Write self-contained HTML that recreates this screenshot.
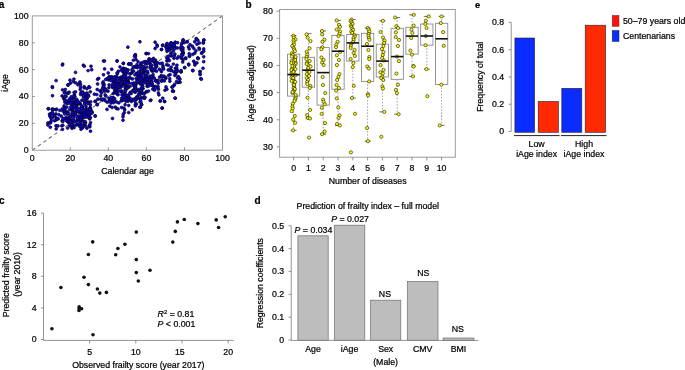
<!DOCTYPE html>
<html><head><meta charset="utf-8"><style>
html,body{margin:0;padding:0;background:#fff;}
body{width:685px;height:370px;overflow:hidden;}
svg{display:block;font-family:"Liberation Sans", sans-serif;will-change:transform;}
text{stroke:#000;stroke-width:0.22px;}
</style></head><body>
<svg width="685" height="370" viewBox="0 0 685 370">
<rect width="685" height="370" fill="#fff"/>
<text x="-1.3" y="7.7" text-anchor="start" font-size="10" font-weight="bold" fill="#000">a</text>
<line x1="32.3" y1="150.2" x2="222.5" y2="15.9" stroke="#6a6a6a" stroke-width="1.05" stroke-dasharray="3.6,3.14"/>
<circle cx="62.70" cy="64.10" r="1.45" fill="#1400f0" stroke="#000" stroke-width="0.6"/>
<circle cx="83.40" cy="65.20" r="1.45" fill="#1400f0" stroke="#000" stroke-width="0.6"/>
<circle cx="84.30" cy="66.30" r="1.45" fill="#1400f0" stroke="#000" stroke-width="0.6"/>
<circle cx="91.00" cy="66.30" r="1.45" fill="#1400f0" stroke="#000" stroke-width="0.6"/>
<circle cx="91.70" cy="69.70" r="1.45" fill="#1400f0" stroke="#000" stroke-width="0.6"/>
<circle cx="88.10" cy="70.60" r="1.45" fill="#1400f0" stroke="#000" stroke-width="0.6"/>
<circle cx="75.50" cy="72.40" r="1.45" fill="#1400f0" stroke="#000" stroke-width="0.6"/>
<circle cx="56.10" cy="80.60" r="1.45" fill="#1400f0" stroke="#000" stroke-width="0.6"/>
<circle cx="70.00" cy="80.20" r="1.45" fill="#1400f0" stroke="#000" stroke-width="0.6"/>
<circle cx="73.90" cy="79.10" r="1.45" fill="#1400f0" stroke="#000" stroke-width="0.6"/>
<circle cx="73.30" cy="81.60" r="1.45" fill="#1400f0" stroke="#000" stroke-width="0.6"/>
<circle cx="75.40" cy="82.80" r="1.45" fill="#1400f0" stroke="#000" stroke-width="0.6"/>
<circle cx="78.70" cy="83.60" r="1.45" fill="#1400f0" stroke="#000" stroke-width="0.6"/>
<circle cx="79.90" cy="82.00" r="1.45" fill="#1400f0" stroke="#000" stroke-width="0.6"/>
<circle cx="80.60" cy="84.40" r="1.45" fill="#1400f0" stroke="#000" stroke-width="0.6"/>
<circle cx="68.00" cy="84.80" r="1.45" fill="#1400f0" stroke="#000" stroke-width="0.6"/>
<circle cx="70.40" cy="83.20" r="1.45" fill="#1400f0" stroke="#000" stroke-width="0.6"/>
<circle cx="52.30" cy="86.80" r="1.45" fill="#1400f0" stroke="#000" stroke-width="0.6"/>
<circle cx="84.20" cy="86.80" r="1.45" fill="#1400f0" stroke="#000" stroke-width="0.6"/>
<circle cx="88.90" cy="86.80" r="1.45" fill="#1400f0" stroke="#000" stroke-width="0.6"/>
<circle cx="97.60" cy="79.30" r="1.45" fill="#1400f0" stroke="#000" stroke-width="0.6"/>
<circle cx="97.60" cy="84.00" r="1.45" fill="#1400f0" stroke="#000" stroke-width="0.6"/>
<circle cx="52.50" cy="87.50" r="1.45" fill="#1400f0" stroke="#000" stroke-width="0.6"/>
<circle cx="52.50" cy="95.70" r="1.45" fill="#1400f0" stroke="#000" stroke-width="0.6"/>
<circle cx="62.50" cy="89.90" r="1.45" fill="#1400f0" stroke="#000" stroke-width="0.6"/>
<circle cx="65.30" cy="89.50" r="1.45" fill="#1400f0" stroke="#000" stroke-width="0.6"/>
<circle cx="65.30" cy="92.50" r="1.45" fill="#1400f0" stroke="#000" stroke-width="0.6"/>
<circle cx="62.10" cy="96.00" r="1.45" fill="#1400f0" stroke="#000" stroke-width="0.6"/>
<circle cx="63.70" cy="98.60" r="1.45" fill="#1400f0" stroke="#000" stroke-width="0.6"/>
<circle cx="64.90" cy="102.30" r="1.45" fill="#1400f0" stroke="#000" stroke-width="0.6"/>
<circle cx="48.30" cy="108.80" r="1.45" fill="#1400f0" stroke="#000" stroke-width="0.6"/>
<circle cx="52.30" cy="109.40" r="1.45" fill="#1400f0" stroke="#000" stroke-width="0.6"/>
<circle cx="59.80" cy="110.40" r="1.45" fill="#1400f0" stroke="#000" stroke-width="0.6"/>
<circle cx="68.00" cy="85.20" r="1.45" fill="#1400f0" stroke="#000" stroke-width="0.6"/>
<circle cx="77.90" cy="84.80" r="1.45" fill="#1400f0" stroke="#000" stroke-width="0.6"/>
<circle cx="80.60" cy="87.20" r="1.45" fill="#1400f0" stroke="#000" stroke-width="0.6"/>
<circle cx="80.20" cy="89.50" r="1.45" fill="#1400f0" stroke="#000" stroke-width="0.6"/>
<circle cx="82.60" cy="91.90" r="1.45" fill="#1400f0" stroke="#000" stroke-width="0.6"/>
<circle cx="84.20" cy="87.90" r="1.45" fill="#1400f0" stroke="#000" stroke-width="0.6"/>
<circle cx="87.00" cy="88.70" r="1.45" fill="#1400f0" stroke="#000" stroke-width="0.6"/>
<circle cx="89.70" cy="87.50" r="1.45" fill="#1400f0" stroke="#000" stroke-width="0.6"/>
<circle cx="87.00" cy="93.10" r="1.45" fill="#1400f0" stroke="#000" stroke-width="0.6"/>
<circle cx="94.40" cy="94.20" r="1.45" fill="#1400f0" stroke="#000" stroke-width="0.6"/>
<circle cx="96.80" cy="94.60" r="1.45" fill="#1400f0" stroke="#000" stroke-width="0.6"/>
<circle cx="95.20" cy="101.30" r="1.45" fill="#1400f0" stroke="#000" stroke-width="0.6"/>
<circle cx="97.20" cy="104.50" r="1.45" fill="#1400f0" stroke="#000" stroke-width="0.6"/>
<circle cx="92.10" cy="112.00" r="1.45" fill="#1400f0" stroke="#000" stroke-width="0.6"/>
<circle cx="97.20" cy="89.50" r="1.45" fill="#1400f0" stroke="#000" stroke-width="0.6"/>
<circle cx="75.50" cy="91.90" r="1.45" fill="#1400f0" stroke="#000" stroke-width="0.6"/>
<circle cx="74.30" cy="94.60" r="1.45" fill="#1400f0" stroke="#000" stroke-width="0.6"/>
<circle cx="47.90" cy="123.00" r="1.45" fill="#1400f0" stroke="#000" stroke-width="0.6"/>
<circle cx="47.90" cy="125.00" r="1.45" fill="#1400f0" stroke="#000" stroke-width="0.6"/>
<circle cx="50.30" cy="127.30" r="1.45" fill="#1400f0" stroke="#000" stroke-width="0.6"/>
<circle cx="49.50" cy="114.30" r="1.45" fill="#1400f0" stroke="#000" stroke-width="0.6"/>
<circle cx="49.90" cy="116.30" r="1.45" fill="#1400f0" stroke="#000" stroke-width="0.6"/>
<circle cx="48.30" cy="108.80" r="1.45" fill="#1400f0" stroke="#000" stroke-width="0.6"/>
<circle cx="52.30" cy="109.20" r="1.45" fill="#1400f0" stroke="#000" stroke-width="0.6"/>
<circle cx="56.20" cy="128.90" r="1.45" fill="#1400f0" stroke="#000" stroke-width="0.6"/>
<circle cx="62.50" cy="129.40" r="1.45" fill="#1400f0" stroke="#000" stroke-width="0.6"/>
<circle cx="67.60" cy="128.10" r="1.45" fill="#1400f0" stroke="#000" stroke-width="0.6"/>
<circle cx="72.00" cy="128.30" r="1.45" fill="#1400f0" stroke="#000" stroke-width="0.6"/>
<circle cx="81.00" cy="129.30" r="1.45" fill="#1400f0" stroke="#000" stroke-width="0.6"/>
<circle cx="86.90" cy="128.30" r="1.45" fill="#1400f0" stroke="#000" stroke-width="0.6"/>
<circle cx="90.50" cy="131.20" r="1.45" fill="#1400f0" stroke="#000" stroke-width="0.6"/>
<circle cx="92.10" cy="113.10" r="1.45" fill="#1400f0" stroke="#000" stroke-width="0.6"/>
<circle cx="95.10" cy="115.90" r="1.45" fill="#1400f0" stroke="#000" stroke-width="0.6"/>
<circle cx="90.50" cy="122.60" r="1.45" fill="#1400f0" stroke="#000" stroke-width="0.6"/>
<circle cx="89.70" cy="119.00" r="1.45" fill="#1400f0" stroke="#000" stroke-width="0.6"/>
<circle cx="103.50" cy="61.00" r="1.45" fill="#1400f0" stroke="#000" stroke-width="0.6"/>
<circle cx="117.00" cy="61.00" r="1.45" fill="#1400f0" stroke="#000" stroke-width="0.6"/>
<circle cx="123.30" cy="63.40" r="1.45" fill="#1400f0" stroke="#000" stroke-width="0.6"/>
<circle cx="120.00" cy="66.90" r="1.45" fill="#1400f0" stroke="#000" stroke-width="0.6"/>
<circle cx="123.30" cy="68.30" r="1.45" fill="#1400f0" stroke="#000" stroke-width="0.6"/>
<circle cx="104.60" cy="68.90" r="1.45" fill="#1400f0" stroke="#000" stroke-width="0.6"/>
<circle cx="111.70" cy="69.30" r="1.45" fill="#1400f0" stroke="#000" stroke-width="0.6"/>
<circle cx="108.20" cy="73.00" r="1.45" fill="#1400f0" stroke="#000" stroke-width="0.6"/>
<circle cx="103.50" cy="74.80" r="1.45" fill="#1400f0" stroke="#000" stroke-width="0.6"/>
<circle cx="118.40" cy="71.30" r="1.45" fill="#1400f0" stroke="#000" stroke-width="0.6"/>
<circle cx="128.70" cy="64.20" r="1.45" fill="#1400f0" stroke="#000" stroke-width="0.6"/>
<circle cx="130.60" cy="64.20" r="1.45" fill="#1400f0" stroke="#000" stroke-width="0.6"/>
<circle cx="135.00" cy="55.10" r="1.45" fill="#1400f0" stroke="#000" stroke-width="0.6"/>
<circle cx="135.40" cy="56.40" r="1.45" fill="#1400f0" stroke="#000" stroke-width="0.6"/>
<circle cx="133.40" cy="60.20" r="1.45" fill="#1400f0" stroke="#000" stroke-width="0.6"/>
<circle cx="136.00" cy="59.50" r="1.45" fill="#1400f0" stroke="#000" stroke-width="0.6"/>
<circle cx="138.10" cy="61.80" r="1.45" fill="#1400f0" stroke="#000" stroke-width="0.6"/>
<circle cx="140.90" cy="64.60" r="1.45" fill="#1400f0" stroke="#000" stroke-width="0.6"/>
<circle cx="146.40" cy="53.50" r="1.45" fill="#1400f0" stroke="#000" stroke-width="0.6"/>
<circle cx="145.60" cy="61.80" r="1.45" fill="#1400f0" stroke="#000" stroke-width="0.6"/>
<circle cx="98.70" cy="78.40" r="1.45" fill="#1400f0" stroke="#000" stroke-width="0.6"/>
<circle cx="127.90" cy="47.20" r="1.45" fill="#1400f0" stroke="#000" stroke-width="0.6"/>
<circle cx="139.90" cy="41.80" r="1.45" fill="#1400f0" stroke="#000" stroke-width="0.6"/>
<circle cx="155.10" cy="42.20" r="1.45" fill="#1400f0" stroke="#000" stroke-width="0.6"/>
<circle cx="157.00" cy="45.00" r="1.45" fill="#1400f0" stroke="#000" stroke-width="0.6"/>
<circle cx="157.20" cy="46.30" r="1.45" fill="#1400f0" stroke="#000" stroke-width="0.6"/>
<circle cx="155.10" cy="48.50" r="1.45" fill="#1400f0" stroke="#000" stroke-width="0.6"/>
<circle cx="162.60" cy="45.40" r="1.45" fill="#1400f0" stroke="#000" stroke-width="0.6"/>
<circle cx="161.40" cy="49.50" r="1.45" fill="#1400f0" stroke="#000" stroke-width="0.6"/>
<circle cx="146.00" cy="53.60" r="1.45" fill="#1400f0" stroke="#000" stroke-width="0.6"/>
<circle cx="148.40" cy="53.60" r="1.45" fill="#1400f0" stroke="#000" stroke-width="0.6"/>
<circle cx="135.40" cy="54.80" r="1.45" fill="#1400f0" stroke="#000" stroke-width="0.6"/>
<circle cx="134.60" cy="56.40" r="1.45" fill="#1400f0" stroke="#000" stroke-width="0.6"/>
<circle cx="149.20" cy="58.80" r="1.45" fill="#1400f0" stroke="#000" stroke-width="0.6"/>
<circle cx="171.20" cy="43.00" r="1.45" fill="#1400f0" stroke="#000" stroke-width="0.6"/>
<circle cx="62.40" cy="65.00" r="1.45" fill="#1400f0" stroke="#000" stroke-width="0.6"/>
<circle cx="104.50" cy="61.00" r="1.45" fill="#1400f0" stroke="#000" stroke-width="0.6"/>
<circle cx="117.20" cy="61.00" r="1.45" fill="#1400f0" stroke="#000" stroke-width="0.6"/>
<circle cx="123.40" cy="63.30" r="1.45" fill="#1400f0" stroke="#000" stroke-width="0.6"/>
<circle cx="129.00" cy="63.80" r="1.45" fill="#1400f0" stroke="#000" stroke-width="0.6"/>
<circle cx="131.00" cy="63.80" r="1.45" fill="#1400f0" stroke="#000" stroke-width="0.6"/>
<circle cx="140.90" cy="64.00" r="1.45" fill="#1400f0" stroke="#000" stroke-width="0.6"/>
<circle cx="145.60" cy="61.70" r="1.45" fill="#1400f0" stroke="#000" stroke-width="0.6"/>
<circle cx="148.90" cy="59.80" r="1.45" fill="#1400f0" stroke="#000" stroke-width="0.6"/>
<circle cx="155.50" cy="60.20" r="1.45" fill="#1400f0" stroke="#000" stroke-width="0.6"/>
<circle cx="148.40" cy="62.60" r="1.45" fill="#1400f0" stroke="#000" stroke-width="0.6"/>
<circle cx="95.20" cy="101.50" r="1.45" fill="#1400f0" stroke="#000" stroke-width="0.6"/>
<circle cx="97.20" cy="104.70" r="1.45" fill="#1400f0" stroke="#000" stroke-width="0.6"/>
<circle cx="95.20" cy="116.10" r="1.45" fill="#1400f0" stroke="#000" stroke-width="0.6"/>
<circle cx="97.90" cy="99.20" r="1.45" fill="#1400f0" stroke="#000" stroke-width="0.6"/>
<circle cx="100.70" cy="99.20" r="1.45" fill="#1400f0" stroke="#000" stroke-width="0.6"/>
<circle cx="103.90" cy="99.20" r="1.45" fill="#1400f0" stroke="#000" stroke-width="0.6"/>
<circle cx="107.00" cy="109.40" r="1.45" fill="#1400f0" stroke="#000" stroke-width="0.6"/>
<circle cx="107.40" cy="102.30" r="1.45" fill="#1400f0" stroke="#000" stroke-width="0.6"/>
<circle cx="109.80" cy="106.30" r="1.45" fill="#1400f0" stroke="#000" stroke-width="0.6"/>
<circle cx="112.10" cy="107.50" r="1.45" fill="#1400f0" stroke="#000" stroke-width="0.6"/>
<circle cx="115.30" cy="107.10" r="1.45" fill="#1400f0" stroke="#000" stroke-width="0.6"/>
<circle cx="116.50" cy="108.60" r="1.45" fill="#1400f0" stroke="#000" stroke-width="0.6"/>
<circle cx="118.00" cy="108.90" r="1.45" fill="#1400f0" stroke="#000" stroke-width="0.6"/>
<circle cx="112.50" cy="118.50" r="1.45" fill="#1400f0" stroke="#000" stroke-width="0.6"/>
<circle cx="118.80" cy="102.90" r="1.45" fill="#1400f0" stroke="#000" stroke-width="0.6"/>
<circle cx="121.60" cy="100.40" r="1.45" fill="#1400f0" stroke="#000" stroke-width="0.6"/>
<circle cx="121.60" cy="107.50" r="1.45" fill="#1400f0" stroke="#000" stroke-width="0.6"/>
<circle cx="124.00" cy="108.20" r="1.45" fill="#1400f0" stroke="#000" stroke-width="0.6"/>
<circle cx="124.70" cy="109.80" r="1.45" fill="#1400f0" stroke="#000" stroke-width="0.6"/>
<circle cx="124.30" cy="112.60" r="1.45" fill="#1400f0" stroke="#000" stroke-width="0.6"/>
<circle cx="123.20" cy="114.50" r="1.45" fill="#1400f0" stroke="#000" stroke-width="0.6"/>
<circle cx="123.00" cy="116.80" r="1.45" fill="#1400f0" stroke="#000" stroke-width="0.6"/>
<circle cx="123.00" cy="120.20" r="1.45" fill="#1400f0" stroke="#000" stroke-width="0.6"/>
<circle cx="125.10" cy="104.70" r="1.45" fill="#1400f0" stroke="#000" stroke-width="0.6"/>
<circle cx="128.70" cy="105.50" r="1.45" fill="#1400f0" stroke="#000" stroke-width="0.6"/>
<circle cx="125.90" cy="101.20" r="1.45" fill="#1400f0" stroke="#000" stroke-width="0.6"/>
<circle cx="127.90" cy="101.20" r="1.45" fill="#1400f0" stroke="#000" stroke-width="0.6"/>
<circle cx="131.40" cy="101.50" r="1.45" fill="#1400f0" stroke="#000" stroke-width="0.6"/>
<circle cx="135.00" cy="98.80" r="1.45" fill="#1400f0" stroke="#000" stroke-width="0.6"/>
<circle cx="135.00" cy="101.20" r="1.45" fill="#1400f0" stroke="#000" stroke-width="0.6"/>
<circle cx="135.40" cy="104.30" r="1.45" fill="#1400f0" stroke="#000" stroke-width="0.6"/>
<circle cx="135.40" cy="105.90" r="1.45" fill="#1400f0" stroke="#000" stroke-width="0.6"/>
<circle cx="136.50" cy="104.00" r="1.45" fill="#1400f0" stroke="#000" stroke-width="0.6"/>
<circle cx="140.10" cy="101.90" r="1.45" fill="#1400f0" stroke="#000" stroke-width="0.6"/>
<circle cx="141.70" cy="104.70" r="1.45" fill="#1400f0" stroke="#000" stroke-width="0.6"/>
<circle cx="139.70" cy="107.10" r="1.45" fill="#1400f0" stroke="#000" stroke-width="0.6"/>
<circle cx="132.20" cy="109.80" r="1.45" fill="#1400f0" stroke="#000" stroke-width="0.6"/>
<circle cx="128.70" cy="112.60" r="1.45" fill="#1400f0" stroke="#000" stroke-width="0.6"/>
<circle cx="144.40" cy="98.40" r="1.45" fill="#1400f0" stroke="#000" stroke-width="0.6"/>
<circle cx="109.50" cy="100.50" r="1.45" fill="#1400f0" stroke="#000" stroke-width="0.6"/>
<circle cx="112.00" cy="101.50" r="1.45" fill="#1400f0" stroke="#000" stroke-width="0.6"/>
<circle cx="114.50" cy="100.30" r="1.45" fill="#1400f0" stroke="#000" stroke-width="0.6"/>
<circle cx="116.50" cy="102.00" r="1.45" fill="#1400f0" stroke="#000" stroke-width="0.6"/>
<circle cx="111.00" cy="103.00" r="1.45" fill="#1400f0" stroke="#000" stroke-width="0.6"/>
<circle cx="113.50" cy="102.80" r="1.45" fill="#1400f0" stroke="#000" stroke-width="0.6"/>
<circle cx="142.90" cy="88.60" r="1.45" fill="#1400f0" stroke="#000" stroke-width="0.6"/>
<circle cx="141.50" cy="92.00" r="1.45" fill="#1400f0" stroke="#000" stroke-width="0.6"/>
<circle cx="144.50" cy="93.00" r="1.45" fill="#1400f0" stroke="#000" stroke-width="0.6"/>
<circle cx="144.80" cy="97.30" r="1.45" fill="#1400f0" stroke="#000" stroke-width="0.6"/>
<circle cx="146.80" cy="91.80" r="1.45" fill="#1400f0" stroke="#000" stroke-width="0.6"/>
<circle cx="142.80" cy="88.80" r="1.45" fill="#1400f0" stroke="#000" stroke-width="0.6"/>
<circle cx="140.90" cy="93.50" r="1.45" fill="#1400f0" stroke="#000" stroke-width="0.6"/>
<circle cx="143.80" cy="94.00" r="1.45" fill="#1400f0" stroke="#000" stroke-width="0.6"/>
<circle cx="144.70" cy="97.30" r="1.45" fill="#1400f0" stroke="#000" stroke-width="0.6"/>
<circle cx="140.90" cy="102.00" r="1.45" fill="#1400f0" stroke="#000" stroke-width="0.6"/>
<circle cx="141.40" cy="104.40" r="1.45" fill="#1400f0" stroke="#000" stroke-width="0.6"/>
<circle cx="140.50" cy="107.20" r="1.45" fill="#1400f0" stroke="#000" stroke-width="0.6"/>
<circle cx="146.60" cy="91.60" r="1.45" fill="#1400f0" stroke="#000" stroke-width="0.6"/>
<circle cx="148.50" cy="91.10" r="1.45" fill="#1400f0" stroke="#000" stroke-width="0.6"/>
<circle cx="150.90" cy="100.10" r="1.45" fill="#1400f0" stroke="#000" stroke-width="0.6"/>
<circle cx="152.80" cy="89.30" r="1.45" fill="#1400f0" stroke="#000" stroke-width="0.6"/>
<circle cx="154.60" cy="90.20" r="1.45" fill="#1400f0" stroke="#000" stroke-width="0.6"/>
<circle cx="158.40" cy="89.30" r="1.45" fill="#1400f0" stroke="#000" stroke-width="0.6"/>
<circle cx="158.40" cy="93.00" r="1.45" fill="#1400f0" stroke="#000" stroke-width="0.6"/>
<circle cx="158.90" cy="94.90" r="1.45" fill="#1400f0" stroke="#000" stroke-width="0.6"/>
<circle cx="153.20" cy="86.00" r="1.45" fill="#1400f0" stroke="#000" stroke-width="0.6"/>
<circle cx="155.60" cy="86.40" r="1.45" fill="#1400f0" stroke="#000" stroke-width="0.6"/>
<circle cx="147.10" cy="86.40" r="1.45" fill="#1400f0" stroke="#000" stroke-width="0.6"/>
<circle cx="160.30" cy="101.10" r="1.45" fill="#1400f0" stroke="#000" stroke-width="0.6"/>
<circle cx="162.70" cy="98.20" r="1.45" fill="#1400f0" stroke="#000" stroke-width="0.6"/>
<circle cx="164.60" cy="101.50" r="1.45" fill="#1400f0" stroke="#000" stroke-width="0.6"/>
<circle cx="162.20" cy="108.20" r="1.45" fill="#1400f0" stroke="#000" stroke-width="0.6"/>
<circle cx="165.00" cy="90.20" r="1.45" fill="#1400f0" stroke="#000" stroke-width="0.6"/>
<circle cx="166.90" cy="89.30" r="1.45" fill="#1400f0" stroke="#000" stroke-width="0.6"/>
<circle cx="166.00" cy="86.90" r="1.45" fill="#1400f0" stroke="#000" stroke-width="0.6"/>
<circle cx="172.60" cy="91.10" r="1.45" fill="#1400f0" stroke="#000" stroke-width="0.6"/>
<circle cx="173.50" cy="91.30" r="1.45" fill="#1400f0" stroke="#000" stroke-width="0.6"/>
<circle cx="172.10" cy="86.90" r="1.45" fill="#1400f0" stroke="#000" stroke-width="0.6"/>
<circle cx="174.00" cy="85.50" r="1.45" fill="#1400f0" stroke="#000" stroke-width="0.6"/>
<circle cx="175.20" cy="98.20" r="1.45" fill="#1400f0" stroke="#000" stroke-width="0.6"/>
<circle cx="150.30" cy="100.50" r="1.45" fill="#1400f0" stroke="#000" stroke-width="0.6"/>
<circle cx="160.20" cy="100.90" r="1.45" fill="#1400f0" stroke="#000" stroke-width="0.6"/>
<circle cx="164.50" cy="101.40" r="1.45" fill="#1400f0" stroke="#000" stroke-width="0.6"/>
<circle cx="162.10" cy="108.00" r="1.45" fill="#1400f0" stroke="#000" stroke-width="0.6"/>
<circle cx="181.10" cy="71.90" r="1.45" fill="#1400f0" stroke="#000" stroke-width="0.6"/>
<circle cx="184.60" cy="67.60" r="1.45" fill="#1400f0" stroke="#000" stroke-width="0.6"/>
<circle cx="185.80" cy="58.50" r="1.45" fill="#1400f0" stroke="#000" stroke-width="0.6"/>
<circle cx="188.60" cy="64.10" r="1.45" fill="#1400f0" stroke="#000" stroke-width="0.6"/>
<circle cx="189.40" cy="56.20" r="1.45" fill="#1400f0" stroke="#000" stroke-width="0.6"/>
<circle cx="192.90" cy="70.40" r="1.45" fill="#1400f0" stroke="#000" stroke-width="0.6"/>
<circle cx="193.70" cy="61.30" r="1.45" fill="#1400f0" stroke="#000" stroke-width="0.6"/>
<circle cx="194.90" cy="63.30" r="1.45" fill="#1400f0" stroke="#000" stroke-width="0.6"/>
<circle cx="196.90" cy="62.90" r="1.45" fill="#1400f0" stroke="#000" stroke-width="0.6"/>
<circle cx="198.00" cy="58.50" r="1.45" fill="#1400f0" stroke="#000" stroke-width="0.6"/>
<circle cx="200.00" cy="71.50" r="1.45" fill="#1400f0" stroke="#000" stroke-width="0.6"/>
<circle cx="200.00" cy="74.30" r="1.45" fill="#1400f0" stroke="#000" stroke-width="0.6"/>
<circle cx="200.80" cy="78.60" r="1.45" fill="#1400f0" stroke="#000" stroke-width="0.6"/>
<circle cx="182.70" cy="62.10" r="1.45" fill="#1400f0" stroke="#000" stroke-width="0.6"/>
<circle cx="183.00" cy="59.80" r="1.45" fill="#1400f0" stroke="#000" stroke-width="0.6"/>
<circle cx="179.50" cy="78.60" r="1.45" fill="#1400f0" stroke="#000" stroke-width="0.6"/>
<circle cx="161.40" cy="81.00" r="1.45" fill="#1400f0" stroke="#000" stroke-width="0.6"/>
<circle cx="163.00" cy="66.00" r="1.45" fill="#1400f0" stroke="#000" stroke-width="0.6"/>
<circle cx="203.00" cy="68.30" r="1.45" fill="#1400f0" stroke="#000" stroke-width="0.6"/>
<circle cx="200.10" cy="71.80" r="1.45" fill="#1400f0" stroke="#000" stroke-width="0.6"/>
<circle cx="200.10" cy="74.50" r="1.45" fill="#1400f0" stroke="#000" stroke-width="0.6"/>
<circle cx="201.30" cy="79.20" r="1.45" fill="#1400f0" stroke="#000" stroke-width="0.6"/>
<circle cx="192.80" cy="70.70" r="1.45" fill="#1400f0" stroke="#000" stroke-width="0.6"/>
<circle cx="184.80" cy="67.60" r="1.45" fill="#1400f0" stroke="#000" stroke-width="0.6"/>
<circle cx="188.80" cy="65.00" r="1.45" fill="#1400f0" stroke="#000" stroke-width="0.6"/>
<circle cx="194.90" cy="65.00" r="1.45" fill="#1400f0" stroke="#000" stroke-width="0.6"/>
<circle cx="181.00" cy="71.80" r="1.45" fill="#1400f0" stroke="#000" stroke-width="0.6"/>
<circle cx="177.00" cy="71.80" r="1.45" fill="#1400f0" stroke="#000" stroke-width="0.6"/>
<circle cx="179.80" cy="79.20" r="1.45" fill="#1400f0" stroke="#000" stroke-width="0.6"/>
<circle cx="178.40" cy="76.80" r="1.45" fill="#1400f0" stroke="#000" stroke-width="0.6"/>
<circle cx="175.40" cy="68.30" r="1.45" fill="#1400f0" stroke="#000" stroke-width="0.6"/>
<circle cx="172.70" cy="91.00" r="1.45" fill="#1400f0" stroke="#000" stroke-width="0.6"/>
<circle cx="175.10" cy="98.10" r="1.45" fill="#1400f0" stroke="#000" stroke-width="0.6"/>
<circle cx="172.30" cy="87.20" r="1.45" fill="#1400f0" stroke="#000" stroke-width="0.6"/>
<circle cx="174.60" cy="84.40" r="1.45" fill="#1400f0" stroke="#000" stroke-width="0.6"/>
<circle cx="162.80" cy="45.10" r="1.45" fill="#1400f0" stroke="#000" stroke-width="0.6"/>
<circle cx="161.60" cy="49.50" r="1.45" fill="#1400f0" stroke="#000" stroke-width="0.6"/>
<circle cx="171.00" cy="43.00" r="1.45" fill="#1400f0" stroke="#000" stroke-width="0.6"/>
<circle cx="175.40" cy="42.60" r="1.45" fill="#1400f0" stroke="#000" stroke-width="0.6"/>
<circle cx="183.20" cy="40.20" r="1.45" fill="#1400f0" stroke="#000" stroke-width="0.6"/>
<circle cx="187.20" cy="41.70" r="1.45" fill="#1400f0" stroke="#000" stroke-width="0.6"/>
<circle cx="184.40" cy="42.60" r="1.45" fill="#1400f0" stroke="#000" stroke-width="0.6"/>
<circle cx="196.20" cy="38.70" r="1.45" fill="#1400f0" stroke="#000" stroke-width="0.6"/>
<circle cx="197.80" cy="40.20" r="1.45" fill="#1400f0" stroke="#000" stroke-width="0.6"/>
<circle cx="203.70" cy="40.20" r="1.45" fill="#1400f0" stroke="#000" stroke-width="0.6"/>
<circle cx="203.30" cy="43.00" r="1.45" fill="#1400f0" stroke="#000" stroke-width="0.6"/>
<circle cx="194.70" cy="41.80" r="1.45" fill="#1400f0" stroke="#000" stroke-width="0.6"/>
<circle cx="197.00" cy="44.20" r="1.45" fill="#1400f0" stroke="#000" stroke-width="0.6"/>
<circle cx="199.40" cy="43.00" r="1.45" fill="#1400f0" stroke="#000" stroke-width="0.6"/>
<circle cx="190.00" cy="44.60" r="1.45" fill="#1400f0" stroke="#000" stroke-width="0.6"/>
<circle cx="192.30" cy="46.20" r="1.45" fill="#1400f0" stroke="#000" stroke-width="0.6"/>
<circle cx="188.40" cy="46.90" r="1.45" fill="#1400f0" stroke="#000" stroke-width="0.6"/>
<circle cx="189.20" cy="48.90" r="1.45" fill="#1400f0" stroke="#000" stroke-width="0.6"/>
<circle cx="193.90" cy="48.50" r="1.45" fill="#1400f0" stroke="#000" stroke-width="0.6"/>
<circle cx="195.90" cy="50.90" r="1.45" fill="#1400f0" stroke="#000" stroke-width="0.6"/>
<circle cx="199.00" cy="48.10" r="1.45" fill="#1400f0" stroke="#000" stroke-width="0.6"/>
<circle cx="199.40" cy="49.30" r="1.45" fill="#1400f0" stroke="#000" stroke-width="0.6"/>
<circle cx="203.70" cy="48.90" r="1.45" fill="#1400f0" stroke="#000" stroke-width="0.6"/>
<circle cx="203.70" cy="51.30" r="1.45" fill="#1400f0" stroke="#000" stroke-width="0.6"/>
<circle cx="201.80" cy="52.90" r="1.45" fill="#1400f0" stroke="#000" stroke-width="0.6"/>
<circle cx="194.70" cy="53.20" r="1.45" fill="#1400f0" stroke="#000" stroke-width="0.6"/>
<circle cx="192.70" cy="54.40" r="1.45" fill="#1400f0" stroke="#000" stroke-width="0.6"/>
<circle cx="189.20" cy="53.60" r="1.45" fill="#1400f0" stroke="#000" stroke-width="0.6"/>
<circle cx="189.60" cy="56.00" r="1.45" fill="#1400f0" stroke="#000" stroke-width="0.6"/>
<circle cx="203.70" cy="56.80" r="1.45" fill="#1400f0" stroke="#000" stroke-width="0.6"/>
<circle cx="197.80" cy="58.00" r="1.45" fill="#1400f0" stroke="#000" stroke-width="0.6"/>
<circle cx="183.20" cy="52.90" r="1.45" fill="#1400f0" stroke="#000" stroke-width="0.6"/>
<circle cx="182.90" cy="50.10" r="1.45" fill="#1400f0" stroke="#000" stroke-width="0.6"/>
<circle cx="182.90" cy="48.10" r="1.45" fill="#1400f0" stroke="#000" stroke-width="0.6"/>
<circle cx="185.60" cy="58.00" r="1.45" fill="#1400f0" stroke="#000" stroke-width="0.6"/>
<circle cx="203.90" cy="39.90" r="1.45" fill="#1400f0" stroke="#000" stroke-width="0.6"/>
<circle cx="203.40" cy="42.80" r="1.45" fill="#1400f0" stroke="#000" stroke-width="0.6"/>
<circle cx="203.70" cy="61.70" r="1.45" fill="#1400f0" stroke="#000" stroke-width="0.6"/>
<circle cx="198.20" cy="58.40" r="1.45" fill="#1400f0" stroke="#000" stroke-width="0.6"/>
<circle cx="201.60" cy="53.20" r="1.45" fill="#1400f0" stroke="#000" stroke-width="0.6"/>
<circle cx="175.10" cy="42.30" r="1.45" fill="#1400f0" stroke="#000" stroke-width="0.6"/>
<circle cx="170.80" cy="43.70" r="1.45" fill="#1400f0" stroke="#000" stroke-width="0.6"/>
<circle cx="186.90" cy="41.80" r="1.45" fill="#1400f0" stroke="#000" stroke-width="0.6"/>
<circle cx="183.10" cy="39.90" r="1.45" fill="#1400f0" stroke="#000" stroke-width="0.6"/>
<circle cx="196.40" cy="39.00" r="1.45" fill="#1400f0" stroke="#000" stroke-width="0.6"/>
<circle cx="80.82" cy="118.45" r="1.45" fill="#1400f0" stroke="#000" stroke-width="0.6"/>
<circle cx="85.47" cy="125.87" r="1.45" fill="#1400f0" stroke="#000" stroke-width="0.6"/>
<circle cx="83.98" cy="125.13" r="1.45" fill="#1400f0" stroke="#000" stroke-width="0.6"/>
<circle cx="64.78" cy="108.23" r="1.45" fill="#1400f0" stroke="#000" stroke-width="0.6"/>
<circle cx="89.47" cy="115.01" r="1.45" fill="#1400f0" stroke="#000" stroke-width="0.6"/>
<circle cx="88.32" cy="95.19" r="1.45" fill="#1400f0" stroke="#000" stroke-width="0.6"/>
<circle cx="76.66" cy="100.12" r="1.45" fill="#1400f0" stroke="#000" stroke-width="0.6"/>
<circle cx="78.68" cy="112.24" r="1.45" fill="#1400f0" stroke="#000" stroke-width="0.6"/>
<circle cx="64.35" cy="99.02" r="1.45" fill="#1400f0" stroke="#000" stroke-width="0.6"/>
<circle cx="71.55" cy="124.90" r="1.45" fill="#1400f0" stroke="#000" stroke-width="0.6"/>
<circle cx="84.67" cy="96.91" r="1.45" fill="#1400f0" stroke="#000" stroke-width="0.6"/>
<circle cx="85.52" cy="96.13" r="1.45" fill="#1400f0" stroke="#000" stroke-width="0.6"/>
<circle cx="69.66" cy="98.97" r="1.45" fill="#1400f0" stroke="#000" stroke-width="0.6"/>
<circle cx="71.81" cy="126.57" r="1.45" fill="#1400f0" stroke="#000" stroke-width="0.6"/>
<circle cx="78.56" cy="116.08" r="1.45" fill="#1400f0" stroke="#000" stroke-width="0.6"/>
<circle cx="69.53" cy="125.82" r="1.45" fill="#1400f0" stroke="#000" stroke-width="0.6"/>
<circle cx="82.65" cy="126.76" r="1.45" fill="#1400f0" stroke="#000" stroke-width="0.6"/>
<circle cx="88.13" cy="102.06" r="1.45" fill="#1400f0" stroke="#000" stroke-width="0.6"/>
<circle cx="73.75" cy="97.14" r="1.45" fill="#1400f0" stroke="#000" stroke-width="0.6"/>
<circle cx="67.93" cy="93.41" r="1.45" fill="#1400f0" stroke="#000" stroke-width="0.6"/>
<circle cx="72.14" cy="113.32" r="1.45" fill="#1400f0" stroke="#000" stroke-width="0.6"/>
<circle cx="73.12" cy="102.47" r="1.45" fill="#1400f0" stroke="#000" stroke-width="0.6"/>
<circle cx="86.10" cy="108.79" r="1.45" fill="#1400f0" stroke="#000" stroke-width="0.6"/>
<circle cx="72.53" cy="108.81" r="1.45" fill="#1400f0" stroke="#000" stroke-width="0.6"/>
<circle cx="83.03" cy="93.11" r="1.45" fill="#1400f0" stroke="#000" stroke-width="0.6"/>
<circle cx="90.33" cy="91.85" r="1.45" fill="#1400f0" stroke="#000" stroke-width="0.6"/>
<circle cx="84.24" cy="122.26" r="1.45" fill="#1400f0" stroke="#000" stroke-width="0.6"/>
<circle cx="73.89" cy="112.41" r="1.45" fill="#1400f0" stroke="#000" stroke-width="0.6"/>
<circle cx="64.25" cy="92.73" r="1.45" fill="#1400f0" stroke="#000" stroke-width="0.6"/>
<circle cx="69.31" cy="118.96" r="1.45" fill="#1400f0" stroke="#000" stroke-width="0.6"/>
<circle cx="89.10" cy="125.86" r="1.45" fill="#1400f0" stroke="#000" stroke-width="0.6"/>
<circle cx="73.30" cy="104.13" r="1.45" fill="#1400f0" stroke="#000" stroke-width="0.6"/>
<circle cx="78.17" cy="119.70" r="1.45" fill="#1400f0" stroke="#000" stroke-width="0.6"/>
<circle cx="66.92" cy="118.69" r="1.45" fill="#1400f0" stroke="#000" stroke-width="0.6"/>
<circle cx="85.53" cy="122.81" r="1.45" fill="#1400f0" stroke="#000" stroke-width="0.6"/>
<circle cx="66.46" cy="103.61" r="1.45" fill="#1400f0" stroke="#000" stroke-width="0.6"/>
<circle cx="80.49" cy="124.97" r="1.45" fill="#1400f0" stroke="#000" stroke-width="0.6"/>
<circle cx="73.18" cy="125.20" r="1.45" fill="#1400f0" stroke="#000" stroke-width="0.6"/>
<circle cx="78.72" cy="102.56" r="1.45" fill="#1400f0" stroke="#000" stroke-width="0.6"/>
<circle cx="72.55" cy="97.57" r="1.45" fill="#1400f0" stroke="#000" stroke-width="0.6"/>
<circle cx="66.11" cy="96.51" r="1.45" fill="#1400f0" stroke="#000" stroke-width="0.6"/>
<circle cx="82.61" cy="127.88" r="1.45" fill="#1400f0" stroke="#000" stroke-width="0.6"/>
<circle cx="68.36" cy="92.80" r="1.45" fill="#1400f0" stroke="#000" stroke-width="0.6"/>
<circle cx="90.64" cy="110.74" r="1.45" fill="#1400f0" stroke="#000" stroke-width="0.6"/>
<circle cx="74.96" cy="99.78" r="1.45" fill="#1400f0" stroke="#000" stroke-width="0.6"/>
<circle cx="80.04" cy="121.57" r="1.45" fill="#1400f0" stroke="#000" stroke-width="0.6"/>
<circle cx="76.30" cy="106.61" r="1.45" fill="#1400f0" stroke="#000" stroke-width="0.6"/>
<circle cx="64.88" cy="109.26" r="1.45" fill="#1400f0" stroke="#000" stroke-width="0.6"/>
<circle cx="86.64" cy="95.83" r="1.45" fill="#1400f0" stroke="#000" stroke-width="0.6"/>
<circle cx="83.75" cy="126.14" r="1.45" fill="#1400f0" stroke="#000" stroke-width="0.6"/>
<circle cx="81.02" cy="120.16" r="1.45" fill="#1400f0" stroke="#000" stroke-width="0.6"/>
<circle cx="66.88" cy="107.08" r="1.45" fill="#1400f0" stroke="#000" stroke-width="0.6"/>
<circle cx="68.03" cy="122.26" r="1.45" fill="#1400f0" stroke="#000" stroke-width="0.6"/>
<circle cx="71.96" cy="107.77" r="1.45" fill="#1400f0" stroke="#000" stroke-width="0.6"/>
<circle cx="90.35" cy="107.78" r="1.45" fill="#1400f0" stroke="#000" stroke-width="0.6"/>
<circle cx="77.18" cy="117.99" r="1.45" fill="#1400f0" stroke="#000" stroke-width="0.6"/>
<circle cx="76.93" cy="101.77" r="1.45" fill="#1400f0" stroke="#000" stroke-width="0.6"/>
<circle cx="74.90" cy="96.42" r="1.45" fill="#1400f0" stroke="#000" stroke-width="0.6"/>
<circle cx="74.18" cy="127.57" r="1.45" fill="#1400f0" stroke="#000" stroke-width="0.6"/>
<circle cx="89.92" cy="114.20" r="1.45" fill="#1400f0" stroke="#000" stroke-width="0.6"/>
<circle cx="77.48" cy="103.52" r="1.45" fill="#1400f0" stroke="#000" stroke-width="0.6"/>
<circle cx="66.41" cy="101.08" r="1.45" fill="#1400f0" stroke="#000" stroke-width="0.6"/>
<circle cx="85.11" cy="123.09" r="1.45" fill="#1400f0" stroke="#000" stroke-width="0.6"/>
<circle cx="73.76" cy="120.08" r="1.45" fill="#1400f0" stroke="#000" stroke-width="0.6"/>
<circle cx="84.92" cy="116.70" r="1.45" fill="#1400f0" stroke="#000" stroke-width="0.6"/>
<circle cx="81.93" cy="119.11" r="1.45" fill="#1400f0" stroke="#000" stroke-width="0.6"/>
<circle cx="73.81" cy="117.07" r="1.45" fill="#1400f0" stroke="#000" stroke-width="0.6"/>
<circle cx="71.58" cy="108.97" r="1.45" fill="#1400f0" stroke="#000" stroke-width="0.6"/>
<circle cx="84.78" cy="116.56" r="1.45" fill="#1400f0" stroke="#000" stroke-width="0.6"/>
<circle cx="71.93" cy="125.99" r="1.45" fill="#1400f0" stroke="#000" stroke-width="0.6"/>
<circle cx="81.54" cy="112.48" r="1.45" fill="#1400f0" stroke="#000" stroke-width="0.6"/>
<circle cx="64.31" cy="111.24" r="1.45" fill="#1400f0" stroke="#000" stroke-width="0.6"/>
<circle cx="70.77" cy="115.85" r="1.45" fill="#1400f0" stroke="#000" stroke-width="0.6"/>
<circle cx="76.50" cy="121.22" r="1.45" fill="#1400f0" stroke="#000" stroke-width="0.6"/>
<circle cx="81.48" cy="120.51" r="1.45" fill="#1400f0" stroke="#000" stroke-width="0.6"/>
<circle cx="73.39" cy="114.83" r="1.45" fill="#1400f0" stroke="#000" stroke-width="0.6"/>
<circle cx="83.92" cy="121.64" r="1.45" fill="#1400f0" stroke="#000" stroke-width="0.6"/>
<circle cx="73.45" cy="122.19" r="1.45" fill="#1400f0" stroke="#000" stroke-width="0.6"/>
<circle cx="87.49" cy="116.47" r="1.45" fill="#1400f0" stroke="#000" stroke-width="0.6"/>
<circle cx="77.99" cy="110.59" r="1.45" fill="#1400f0" stroke="#000" stroke-width="0.6"/>
<circle cx="68.49" cy="121.95" r="1.45" fill="#1400f0" stroke="#000" stroke-width="0.6"/>
<circle cx="89.31" cy="108.66" r="1.45" fill="#1400f0" stroke="#000" stroke-width="0.6"/>
<circle cx="82.67" cy="117.63" r="1.45" fill="#1400f0" stroke="#000" stroke-width="0.6"/>
<circle cx="83.72" cy="97.36" r="1.45" fill="#1400f0" stroke="#000" stroke-width="0.6"/>
<circle cx="85.07" cy="112.49" r="1.45" fill="#1400f0" stroke="#000" stroke-width="0.6"/>
<circle cx="81.97" cy="106.57" r="1.45" fill="#1400f0" stroke="#000" stroke-width="0.6"/>
<circle cx="80.84" cy="119.66" r="1.45" fill="#1400f0" stroke="#000" stroke-width="0.6"/>
<circle cx="81.20" cy="117.66" r="1.45" fill="#1400f0" stroke="#000" stroke-width="0.6"/>
<circle cx="64.75" cy="96.92" r="1.45" fill="#1400f0" stroke="#000" stroke-width="0.6"/>
<circle cx="75.91" cy="115.05" r="1.45" fill="#1400f0" stroke="#000" stroke-width="0.6"/>
<circle cx="69.91" cy="116.38" r="1.45" fill="#1400f0" stroke="#000" stroke-width="0.6"/>
<circle cx="81.03" cy="92.55" r="1.45" fill="#1400f0" stroke="#000" stroke-width="0.6"/>
<circle cx="76.73" cy="99.37" r="1.45" fill="#1400f0" stroke="#000" stroke-width="0.6"/>
<circle cx="65.46" cy="95.94" r="1.45" fill="#1400f0" stroke="#000" stroke-width="0.6"/>
<circle cx="72.57" cy="97.72" r="1.45" fill="#1400f0" stroke="#000" stroke-width="0.6"/>
<circle cx="69.22" cy="92.32" r="1.45" fill="#1400f0" stroke="#000" stroke-width="0.6"/>
<circle cx="76.56" cy="105.07" r="1.45" fill="#1400f0" stroke="#000" stroke-width="0.6"/>
<circle cx="80.52" cy="112.84" r="1.45" fill="#1400f0" stroke="#000" stroke-width="0.6"/>
<circle cx="70.42" cy="124.42" r="1.45" fill="#1400f0" stroke="#000" stroke-width="0.6"/>
<circle cx="64.02" cy="106.00" r="1.45" fill="#1400f0" stroke="#000" stroke-width="0.6"/>
<circle cx="71.52" cy="106.17" r="1.45" fill="#1400f0" stroke="#000" stroke-width="0.6"/>
<circle cx="74.09" cy="92.33" r="1.45" fill="#1400f0" stroke="#000" stroke-width="0.6"/>
<circle cx="80.57" cy="94.51" r="1.45" fill="#1400f0" stroke="#000" stroke-width="0.6"/>
<circle cx="78.72" cy="103.56" r="1.45" fill="#1400f0" stroke="#000" stroke-width="0.6"/>
<circle cx="79.68" cy="126.46" r="1.45" fill="#1400f0" stroke="#000" stroke-width="0.6"/>
<circle cx="86.10" cy="106.51" r="1.45" fill="#1400f0" stroke="#000" stroke-width="0.6"/>
<circle cx="85.95" cy="114.76" r="1.45" fill="#1400f0" stroke="#000" stroke-width="0.6"/>
<circle cx="73.97" cy="96.26" r="1.45" fill="#1400f0" stroke="#000" stroke-width="0.6"/>
<circle cx="80.09" cy="111.86" r="1.45" fill="#1400f0" stroke="#000" stroke-width="0.6"/>
<circle cx="89.84" cy="126.82" r="1.45" fill="#1400f0" stroke="#000" stroke-width="0.6"/>
<circle cx="80.43" cy="103.99" r="1.45" fill="#1400f0" stroke="#000" stroke-width="0.6"/>
<circle cx="66.91" cy="111.94" r="1.45" fill="#1400f0" stroke="#000" stroke-width="0.6"/>
<circle cx="81.00" cy="123.98" r="1.45" fill="#1400f0" stroke="#000" stroke-width="0.6"/>
<circle cx="74.15" cy="106.97" r="1.45" fill="#1400f0" stroke="#000" stroke-width="0.6"/>
<circle cx="70.11" cy="101.79" r="1.45" fill="#1400f0" stroke="#000" stroke-width="0.6"/>
<circle cx="90.26" cy="105.05" r="1.45" fill="#1400f0" stroke="#000" stroke-width="0.6"/>
<circle cx="89.95" cy="124.81" r="1.45" fill="#1400f0" stroke="#000" stroke-width="0.6"/>
<circle cx="90.49" cy="109.36" r="1.45" fill="#1400f0" stroke="#000" stroke-width="0.6"/>
<circle cx="75.22" cy="102.81" r="1.45" fill="#1400f0" stroke="#000" stroke-width="0.6"/>
<circle cx="90.58" cy="109.19" r="1.45" fill="#1400f0" stroke="#000" stroke-width="0.6"/>
<circle cx="71.73" cy="108.65" r="1.45" fill="#1400f0" stroke="#000" stroke-width="0.6"/>
<circle cx="67.29" cy="114.00" r="1.45" fill="#1400f0" stroke="#000" stroke-width="0.6"/>
<circle cx="75.97" cy="101.84" r="1.45" fill="#1400f0" stroke="#000" stroke-width="0.6"/>
<circle cx="85.11" cy="121.59" r="1.45" fill="#1400f0" stroke="#000" stroke-width="0.6"/>
<circle cx="64.36" cy="110.70" r="1.45" fill="#1400f0" stroke="#000" stroke-width="0.6"/>
<circle cx="71.39" cy="125.60" r="1.45" fill="#1400f0" stroke="#000" stroke-width="0.6"/>
<circle cx="85.11" cy="100.09" r="1.45" fill="#1400f0" stroke="#000" stroke-width="0.6"/>
<circle cx="71.23" cy="96.73" r="1.45" fill="#1400f0" stroke="#000" stroke-width="0.6"/>
<circle cx="90.70" cy="101.85" r="1.45" fill="#1400f0" stroke="#000" stroke-width="0.6"/>
<circle cx="80.42" cy="108.56" r="1.45" fill="#1400f0" stroke="#000" stroke-width="0.6"/>
<circle cx="81.41" cy="113.34" r="1.45" fill="#1400f0" stroke="#000" stroke-width="0.6"/>
<circle cx="84.07" cy="95.37" r="1.45" fill="#1400f0" stroke="#000" stroke-width="0.6"/>
<circle cx="84.53" cy="102.13" r="1.45" fill="#1400f0" stroke="#000" stroke-width="0.6"/>
<circle cx="78.40" cy="103.44" r="1.45" fill="#1400f0" stroke="#000" stroke-width="0.6"/>
<circle cx="72.01" cy="110.61" r="1.45" fill="#1400f0" stroke="#000" stroke-width="0.6"/>
<circle cx="76.54" cy="104.36" r="1.45" fill="#1400f0" stroke="#000" stroke-width="0.6"/>
<circle cx="84.12" cy="112.86" r="1.45" fill="#1400f0" stroke="#000" stroke-width="0.6"/>
<circle cx="64.98" cy="100.34" r="1.45" fill="#1400f0" stroke="#000" stroke-width="0.6"/>
<circle cx="76.30" cy="124.91" r="1.45" fill="#1400f0" stroke="#000" stroke-width="0.6"/>
<circle cx="87.97" cy="111.19" r="1.45" fill="#1400f0" stroke="#000" stroke-width="0.6"/>
<circle cx="75.55" cy="112.30" r="1.45" fill="#1400f0" stroke="#000" stroke-width="0.6"/>
<circle cx="83.12" cy="114.39" r="1.45" fill="#1400f0" stroke="#000" stroke-width="0.6"/>
<circle cx="77.01" cy="124.73" r="1.45" fill="#1400f0" stroke="#000" stroke-width="0.6"/>
<circle cx="74.41" cy="105.50" r="1.45" fill="#1400f0" stroke="#000" stroke-width="0.6"/>
<circle cx="87.00" cy="98.27" r="1.45" fill="#1400f0" stroke="#000" stroke-width="0.6"/>
<circle cx="72.00" cy="121.71" r="1.45" fill="#1400f0" stroke="#000" stroke-width="0.6"/>
<circle cx="82.75" cy="107.01" r="1.45" fill="#1400f0" stroke="#000" stroke-width="0.6"/>
<circle cx="71.73" cy="119.89" r="1.45" fill="#1400f0" stroke="#000" stroke-width="0.6"/>
<circle cx="88.59" cy="96.28" r="1.45" fill="#1400f0" stroke="#000" stroke-width="0.6"/>
<circle cx="76.92" cy="111.32" r="1.45" fill="#1400f0" stroke="#000" stroke-width="0.6"/>
<circle cx="77.44" cy="103.24" r="1.45" fill="#1400f0" stroke="#000" stroke-width="0.6"/>
<circle cx="68.15" cy="112.68" r="1.45" fill="#1400f0" stroke="#000" stroke-width="0.6"/>
<circle cx="85.92" cy="93.53" r="1.45" fill="#1400f0" stroke="#000" stroke-width="0.6"/>
<circle cx="70.21" cy="121.32" r="1.45" fill="#1400f0" stroke="#000" stroke-width="0.6"/>
<circle cx="85.38" cy="115.55" r="1.45" fill="#1400f0" stroke="#000" stroke-width="0.6"/>
<circle cx="82.93" cy="92.81" r="1.45" fill="#1400f0" stroke="#000" stroke-width="0.6"/>
<circle cx="86.74" cy="99.11" r="1.45" fill="#1400f0" stroke="#000" stroke-width="0.6"/>
<circle cx="81.43" cy="126.23" r="1.45" fill="#1400f0" stroke="#000" stroke-width="0.6"/>
<circle cx="83.24" cy="95.98" r="1.45" fill="#1400f0" stroke="#000" stroke-width="0.6"/>
<circle cx="71.90" cy="124.97" r="1.45" fill="#1400f0" stroke="#000" stroke-width="0.6"/>
<circle cx="68.04" cy="113.59" r="1.45" fill="#1400f0" stroke="#000" stroke-width="0.6"/>
<circle cx="76.93" cy="103.51" r="1.45" fill="#1400f0" stroke="#000" stroke-width="0.6"/>
<circle cx="81.94" cy="100.22" r="1.45" fill="#1400f0" stroke="#000" stroke-width="0.6"/>
<circle cx="69.60" cy="109.62" r="1.45" fill="#1400f0" stroke="#000" stroke-width="0.6"/>
<circle cx="68.73" cy="100.61" r="1.45" fill="#1400f0" stroke="#000" stroke-width="0.6"/>
<circle cx="80.81" cy="119.79" r="1.45" fill="#1400f0" stroke="#000" stroke-width="0.6"/>
<circle cx="88.08" cy="102.76" r="1.45" fill="#1400f0" stroke="#000" stroke-width="0.6"/>
<circle cx="77.36" cy="107.81" r="1.45" fill="#1400f0" stroke="#000" stroke-width="0.6"/>
<circle cx="81.41" cy="112.71" r="1.45" fill="#1400f0" stroke="#000" stroke-width="0.6"/>
<circle cx="89.52" cy="109.48" r="1.45" fill="#1400f0" stroke="#000" stroke-width="0.6"/>
<circle cx="68.34" cy="118.52" r="1.45" fill="#1400f0" stroke="#000" stroke-width="0.6"/>
<circle cx="70.63" cy="116.68" r="1.45" fill="#1400f0" stroke="#000" stroke-width="0.6"/>
<circle cx="79.14" cy="124.49" r="1.45" fill="#1400f0" stroke="#000" stroke-width="0.6"/>
<circle cx="80.32" cy="116.38" r="1.45" fill="#1400f0" stroke="#000" stroke-width="0.6"/>
<circle cx="73.32" cy="114.45" r="1.45" fill="#1400f0" stroke="#000" stroke-width="0.6"/>
<circle cx="73.10" cy="120.02" r="1.45" fill="#1400f0" stroke="#000" stroke-width="0.6"/>
<circle cx="79.41" cy="102.75" r="1.45" fill="#1400f0" stroke="#000" stroke-width="0.6"/>
<circle cx="72.63" cy="109.39" r="1.45" fill="#1400f0" stroke="#000" stroke-width="0.6"/>
<circle cx="84.68" cy="104.02" r="1.45" fill="#1400f0" stroke="#000" stroke-width="0.6"/>
<circle cx="84.12" cy="117.34" r="1.45" fill="#1400f0" stroke="#000" stroke-width="0.6"/>
<circle cx="69.05" cy="117.70" r="1.45" fill="#1400f0" stroke="#000" stroke-width="0.6"/>
<circle cx="69.19" cy="102.49" r="1.45" fill="#1400f0" stroke="#000" stroke-width="0.6"/>
<circle cx="81.26" cy="105.68" r="1.45" fill="#1400f0" stroke="#000" stroke-width="0.6"/>
<circle cx="88.05" cy="112.45" r="1.45" fill="#1400f0" stroke="#000" stroke-width="0.6"/>
<circle cx="74.76" cy="121.30" r="1.45" fill="#1400f0" stroke="#000" stroke-width="0.6"/>
<circle cx="68.29" cy="103.22" r="1.45" fill="#1400f0" stroke="#000" stroke-width="0.6"/>
<circle cx="89.85" cy="118.07" r="1.45" fill="#1400f0" stroke="#000" stroke-width="0.6"/>
<circle cx="72.35" cy="102.25" r="1.45" fill="#1400f0" stroke="#000" stroke-width="0.6"/>
<circle cx="90.34" cy="117.62" r="1.45" fill="#1400f0" stroke="#000" stroke-width="0.6"/>
<circle cx="86.69" cy="102.91" r="1.45" fill="#1400f0" stroke="#000" stroke-width="0.6"/>
<circle cx="82.00" cy="108.92" r="1.45" fill="#1400f0" stroke="#000" stroke-width="0.6"/>
<circle cx="72.64" cy="108.33" r="1.45" fill="#1400f0" stroke="#000" stroke-width="0.6"/>
<circle cx="81.73" cy="108.76" r="1.45" fill="#1400f0" stroke="#000" stroke-width="0.6"/>
<circle cx="76.26" cy="102.82" r="1.45" fill="#1400f0" stroke="#000" stroke-width="0.6"/>
<circle cx="86.95" cy="117.14" r="1.45" fill="#1400f0" stroke="#000" stroke-width="0.6"/>
<circle cx="86.31" cy="111.14" r="1.45" fill="#1400f0" stroke="#000" stroke-width="0.6"/>
<circle cx="87.44" cy="113.49" r="1.45" fill="#1400f0" stroke="#000" stroke-width="0.6"/>
<circle cx="81.22" cy="115.05" r="1.45" fill="#1400f0" stroke="#000" stroke-width="0.6"/>
<circle cx="84.76" cy="110.07" r="1.45" fill="#1400f0" stroke="#000" stroke-width="0.6"/>
<circle cx="69.33" cy="99.93" r="1.45" fill="#1400f0" stroke="#000" stroke-width="0.6"/>
<circle cx="71.86" cy="100.10" r="1.45" fill="#1400f0" stroke="#000" stroke-width="0.6"/>
<circle cx="88.34" cy="112.47" r="1.45" fill="#1400f0" stroke="#000" stroke-width="0.6"/>
<circle cx="85.25" cy="99.01" r="1.45" fill="#1400f0" stroke="#000" stroke-width="0.6"/>
<circle cx="78.28" cy="123.91" r="1.45" fill="#1400f0" stroke="#000" stroke-width="0.6"/>
<circle cx="81.87" cy="111.00" r="1.45" fill="#1400f0" stroke="#000" stroke-width="0.6"/>
<circle cx="78.17" cy="101.79" r="1.45" fill="#1400f0" stroke="#000" stroke-width="0.6"/>
<circle cx="70.71" cy="103.45" r="1.45" fill="#1400f0" stroke="#000" stroke-width="0.6"/>
<circle cx="75.99" cy="109.80" r="1.45" fill="#1400f0" stroke="#000" stroke-width="0.6"/>
<circle cx="88.13" cy="103.26" r="1.45" fill="#1400f0" stroke="#000" stroke-width="0.6"/>
<circle cx="73.10" cy="106.77" r="1.45" fill="#1400f0" stroke="#000" stroke-width="0.6"/>
<circle cx="70.88" cy="107.04" r="1.45" fill="#1400f0" stroke="#000" stroke-width="0.6"/>
<circle cx="72.64" cy="112.50" r="1.45" fill="#1400f0" stroke="#000" stroke-width="0.6"/>
<circle cx="56.01" cy="125.82" r="1.45" fill="#1400f0" stroke="#000" stroke-width="0.6"/>
<circle cx="62.07" cy="120.80" r="1.45" fill="#1400f0" stroke="#000" stroke-width="0.6"/>
<circle cx="57.96" cy="125.96" r="1.45" fill="#1400f0" stroke="#000" stroke-width="0.6"/>
<circle cx="51.24" cy="120.70" r="1.45" fill="#1400f0" stroke="#000" stroke-width="0.6"/>
<circle cx="54.53" cy="120.81" r="1.45" fill="#1400f0" stroke="#000" stroke-width="0.6"/>
<circle cx="62.86" cy="111.10" r="1.45" fill="#1400f0" stroke="#000" stroke-width="0.6"/>
<circle cx="53.38" cy="109.49" r="1.45" fill="#1400f0" stroke="#000" stroke-width="0.6"/>
<circle cx="55.92" cy="113.92" r="1.45" fill="#1400f0" stroke="#000" stroke-width="0.6"/>
<circle cx="62.91" cy="121.64" r="1.45" fill="#1400f0" stroke="#000" stroke-width="0.6"/>
<circle cx="52.10" cy="112.57" r="1.45" fill="#1400f0" stroke="#000" stroke-width="0.6"/>
<circle cx="61.77" cy="125.87" r="1.45" fill="#1400f0" stroke="#000" stroke-width="0.6"/>
<circle cx="61.27" cy="116.18" r="1.45" fill="#1400f0" stroke="#000" stroke-width="0.6"/>
<circle cx="50.16" cy="122.81" r="1.45" fill="#1400f0" stroke="#000" stroke-width="0.6"/>
<circle cx="58.86" cy="114.65" r="1.45" fill="#1400f0" stroke="#000" stroke-width="0.6"/>
<circle cx="66.08" cy="117.33" r="1.45" fill="#1400f0" stroke="#000" stroke-width="0.6"/>
<circle cx="56.55" cy="109.14" r="1.45" fill="#1400f0" stroke="#000" stroke-width="0.6"/>
<circle cx="53.85" cy="115.74" r="1.45" fill="#1400f0" stroke="#000" stroke-width="0.6"/>
<circle cx="52.41" cy="117.66" r="1.45" fill="#1400f0" stroke="#000" stroke-width="0.6"/>
<circle cx="56.64" cy="118.09" r="1.45" fill="#1400f0" stroke="#000" stroke-width="0.6"/>
<circle cx="50.60" cy="113.96" r="1.45" fill="#1400f0" stroke="#000" stroke-width="0.6"/>
<circle cx="51.05" cy="118.30" r="1.45" fill="#1400f0" stroke="#000" stroke-width="0.6"/>
<circle cx="66.50" cy="119.37" r="1.45" fill="#1400f0" stroke="#000" stroke-width="0.6"/>
<circle cx="65.28" cy="112.07" r="1.45" fill="#1400f0" stroke="#000" stroke-width="0.6"/>
<circle cx="58.24" cy="118.86" r="1.45" fill="#1400f0" stroke="#000" stroke-width="0.6"/>
<circle cx="56.16" cy="119.88" r="1.45" fill="#1400f0" stroke="#000" stroke-width="0.6"/>
<circle cx="62.79" cy="125.35" r="1.45" fill="#1400f0" stroke="#000" stroke-width="0.6"/>
<circle cx="54.84" cy="116.53" r="1.45" fill="#1400f0" stroke="#000" stroke-width="0.6"/>
<circle cx="64.70" cy="112.26" r="1.45" fill="#1400f0" stroke="#000" stroke-width="0.6"/>
<circle cx="51.20" cy="113.92" r="1.45" fill="#1400f0" stroke="#000" stroke-width="0.6"/>
<circle cx="50.67" cy="122.68" r="1.45" fill="#1400f0" stroke="#000" stroke-width="0.6"/>
<circle cx="64.57" cy="113.94" r="1.45" fill="#1400f0" stroke="#000" stroke-width="0.6"/>
<circle cx="53.65" cy="109.60" r="1.45" fill="#1400f0" stroke="#000" stroke-width="0.6"/>
<circle cx="57.14" cy="118.96" r="1.45" fill="#1400f0" stroke="#000" stroke-width="0.6"/>
<circle cx="62.31" cy="108.91" r="1.45" fill="#1400f0" stroke="#000" stroke-width="0.6"/>
<circle cx="52.80" cy="113.43" r="1.45" fill="#1400f0" stroke="#000" stroke-width="0.6"/>
<circle cx="56.10" cy="109.87" r="1.45" fill="#1400f0" stroke="#000" stroke-width="0.6"/>
<circle cx="63.29" cy="118.57" r="1.45" fill="#1400f0" stroke="#000" stroke-width="0.6"/>
<circle cx="66.03" cy="120.43" r="1.45" fill="#1400f0" stroke="#000" stroke-width="0.6"/>
<circle cx="63.43" cy="118.92" r="1.45" fill="#1400f0" stroke="#000" stroke-width="0.6"/>
<circle cx="124.93" cy="92.94" r="1.45" fill="#1400f0" stroke="#000" stroke-width="0.6"/>
<circle cx="137.19" cy="99.01" r="1.45" fill="#1400f0" stroke="#000" stroke-width="0.6"/>
<circle cx="141.36" cy="87.85" r="1.45" fill="#1400f0" stroke="#000" stroke-width="0.6"/>
<circle cx="114.89" cy="92.73" r="1.45" fill="#1400f0" stroke="#000" stroke-width="0.6"/>
<circle cx="114.60" cy="86.74" r="1.45" fill="#1400f0" stroke="#000" stroke-width="0.6"/>
<circle cx="143.42" cy="81.52" r="1.45" fill="#1400f0" stroke="#000" stroke-width="0.6"/>
<circle cx="134.69" cy="67.17" r="1.45" fill="#1400f0" stroke="#000" stroke-width="0.6"/>
<circle cx="124.16" cy="72.95" r="1.45" fill="#1400f0" stroke="#000" stroke-width="0.6"/>
<circle cx="140.29" cy="76.63" r="1.45" fill="#1400f0" stroke="#000" stroke-width="0.6"/>
<circle cx="152.11" cy="77.28" r="1.45" fill="#1400f0" stroke="#000" stroke-width="0.6"/>
<circle cx="124.46" cy="76.42" r="1.45" fill="#1400f0" stroke="#000" stroke-width="0.6"/>
<circle cx="130.12" cy="99.67" r="1.45" fill="#1400f0" stroke="#000" stroke-width="0.6"/>
<circle cx="146.32" cy="75.46" r="1.45" fill="#1400f0" stroke="#000" stroke-width="0.6"/>
<circle cx="102.51" cy="100.03" r="1.45" fill="#1400f0" stroke="#000" stroke-width="0.6"/>
<circle cx="127.21" cy="95.80" r="1.45" fill="#1400f0" stroke="#000" stroke-width="0.6"/>
<circle cx="131.84" cy="72.71" r="1.45" fill="#1400f0" stroke="#000" stroke-width="0.6"/>
<circle cx="142.69" cy="67.63" r="1.45" fill="#1400f0" stroke="#000" stroke-width="0.6"/>
<circle cx="148.37" cy="84.20" r="1.45" fill="#1400f0" stroke="#000" stroke-width="0.6"/>
<circle cx="147.32" cy="78.56" r="1.45" fill="#1400f0" stroke="#000" stroke-width="0.6"/>
<circle cx="105.18" cy="88.58" r="1.45" fill="#1400f0" stroke="#000" stroke-width="0.6"/>
<circle cx="151.26" cy="65.77" r="1.45" fill="#1400f0" stroke="#000" stroke-width="0.6"/>
<circle cx="145.33" cy="71.26" r="1.45" fill="#1400f0" stroke="#000" stroke-width="0.6"/>
<circle cx="138.77" cy="94.98" r="1.45" fill="#1400f0" stroke="#000" stroke-width="0.6"/>
<circle cx="135.33" cy="92.22" r="1.45" fill="#1400f0" stroke="#000" stroke-width="0.6"/>
<circle cx="128.93" cy="82.81" r="1.45" fill="#1400f0" stroke="#000" stroke-width="0.6"/>
<circle cx="117.44" cy="73.84" r="1.45" fill="#1400f0" stroke="#000" stroke-width="0.6"/>
<circle cx="126.88" cy="87.95" r="1.45" fill="#1400f0" stroke="#000" stroke-width="0.6"/>
<circle cx="122.45" cy="100.23" r="1.45" fill="#1400f0" stroke="#000" stroke-width="0.6"/>
<circle cx="130.36" cy="92.14" r="1.45" fill="#1400f0" stroke="#000" stroke-width="0.6"/>
<circle cx="120.36" cy="83.12" r="1.45" fill="#1400f0" stroke="#000" stroke-width="0.6"/>
<circle cx="138.57" cy="79.98" r="1.45" fill="#1400f0" stroke="#000" stroke-width="0.6"/>
<circle cx="132.87" cy="90.42" r="1.45" fill="#1400f0" stroke="#000" stroke-width="0.6"/>
<circle cx="140.58" cy="70.50" r="1.45" fill="#1400f0" stroke="#000" stroke-width="0.6"/>
<circle cx="152.93" cy="69.08" r="1.45" fill="#1400f0" stroke="#000" stroke-width="0.6"/>
<circle cx="142.82" cy="86.48" r="1.45" fill="#1400f0" stroke="#000" stroke-width="0.6"/>
<circle cx="139.04" cy="93.88" r="1.45" fill="#1400f0" stroke="#000" stroke-width="0.6"/>
<circle cx="141.97" cy="83.88" r="1.45" fill="#1400f0" stroke="#000" stroke-width="0.6"/>
<circle cx="111.50" cy="79.73" r="1.45" fill="#1400f0" stroke="#000" stroke-width="0.6"/>
<circle cx="151.03" cy="67.52" r="1.45" fill="#1400f0" stroke="#000" stroke-width="0.6"/>
<circle cx="155.54" cy="80.93" r="1.45" fill="#1400f0" stroke="#000" stroke-width="0.6"/>
<circle cx="137.05" cy="96.58" r="1.45" fill="#1400f0" stroke="#000" stroke-width="0.6"/>
<circle cx="151.84" cy="84.00" r="1.45" fill="#1400f0" stroke="#000" stroke-width="0.6"/>
<circle cx="139.11" cy="81.35" r="1.45" fill="#1400f0" stroke="#000" stroke-width="0.6"/>
<circle cx="140.63" cy="73.46" r="1.45" fill="#1400f0" stroke="#000" stroke-width="0.6"/>
<circle cx="150.49" cy="66.36" r="1.45" fill="#1400f0" stroke="#000" stroke-width="0.6"/>
<circle cx="109.13" cy="84.84" r="1.45" fill="#1400f0" stroke="#000" stroke-width="0.6"/>
<circle cx="143.57" cy="66.88" r="1.45" fill="#1400f0" stroke="#000" stroke-width="0.6"/>
<circle cx="103.10" cy="81.90" r="1.45" fill="#1400f0" stroke="#000" stroke-width="0.6"/>
<circle cx="141.36" cy="75.34" r="1.45" fill="#1400f0" stroke="#000" stroke-width="0.6"/>
<circle cx="123.96" cy="80.27" r="1.45" fill="#1400f0" stroke="#000" stroke-width="0.6"/>
<circle cx="151.52" cy="70.30" r="1.45" fill="#1400f0" stroke="#000" stroke-width="0.6"/>
<circle cx="115.64" cy="83.64" r="1.45" fill="#1400f0" stroke="#000" stroke-width="0.6"/>
<circle cx="155.08" cy="65.24" r="1.45" fill="#1400f0" stroke="#000" stroke-width="0.6"/>
<circle cx="131.85" cy="83.55" r="1.45" fill="#1400f0" stroke="#000" stroke-width="0.6"/>
<circle cx="133.68" cy="85.44" r="1.45" fill="#1400f0" stroke="#000" stroke-width="0.6"/>
<circle cx="117.81" cy="94.41" r="1.45" fill="#1400f0" stroke="#000" stroke-width="0.6"/>
<circle cx="136.60" cy="97.78" r="1.45" fill="#1400f0" stroke="#000" stroke-width="0.6"/>
<circle cx="112.67" cy="87.66" r="1.45" fill="#1400f0" stroke="#000" stroke-width="0.6"/>
<circle cx="147.84" cy="77.98" r="1.45" fill="#1400f0" stroke="#000" stroke-width="0.6"/>
<circle cx="105.53" cy="90.35" r="1.45" fill="#1400f0" stroke="#000" stroke-width="0.6"/>
<circle cx="141.83" cy="92.92" r="1.45" fill="#1400f0" stroke="#000" stroke-width="0.6"/>
<circle cx="135.44" cy="99.46" r="1.45" fill="#1400f0" stroke="#000" stroke-width="0.6"/>
<circle cx="121.03" cy="77.18" r="1.45" fill="#1400f0" stroke="#000" stroke-width="0.6"/>
<circle cx="138.63" cy="89.69" r="1.45" fill="#1400f0" stroke="#000" stroke-width="0.6"/>
<circle cx="130.75" cy="73.51" r="1.45" fill="#1400f0" stroke="#000" stroke-width="0.6"/>
<circle cx="121.03" cy="87.08" r="1.45" fill="#1400f0" stroke="#000" stroke-width="0.6"/>
<circle cx="127.99" cy="99.36" r="1.45" fill="#1400f0" stroke="#000" stroke-width="0.6"/>
<circle cx="153.84" cy="60.18" r="1.45" fill="#1400f0" stroke="#000" stroke-width="0.6"/>
<circle cx="127.04" cy="72.58" r="1.45" fill="#1400f0" stroke="#000" stroke-width="0.6"/>
<circle cx="141.90" cy="97.41" r="1.45" fill="#1400f0" stroke="#000" stroke-width="0.6"/>
<circle cx="121.47" cy="69.79" r="1.45" fill="#1400f0" stroke="#000" stroke-width="0.6"/>
<circle cx="128.18" cy="87.66" r="1.45" fill="#1400f0" stroke="#000" stroke-width="0.6"/>
<circle cx="144.87" cy="82.33" r="1.45" fill="#1400f0" stroke="#000" stroke-width="0.6"/>
<circle cx="148.26" cy="79.85" r="1.45" fill="#1400f0" stroke="#000" stroke-width="0.6"/>
<circle cx="113.18" cy="86.31" r="1.45" fill="#1400f0" stroke="#000" stroke-width="0.6"/>
<circle cx="156.12" cy="80.82" r="1.45" fill="#1400f0" stroke="#000" stroke-width="0.6"/>
<circle cx="121.71" cy="98.09" r="1.45" fill="#1400f0" stroke="#000" stroke-width="0.6"/>
<circle cx="143.54" cy="72.89" r="1.45" fill="#1400f0" stroke="#000" stroke-width="0.6"/>
<circle cx="125.85" cy="73.84" r="1.45" fill="#1400f0" stroke="#000" stroke-width="0.6"/>
<circle cx="112.07" cy="99.87" r="1.45" fill="#1400f0" stroke="#000" stroke-width="0.6"/>
<circle cx="124.95" cy="77.76" r="1.45" fill="#1400f0" stroke="#000" stroke-width="0.6"/>
<circle cx="154.40" cy="87.23" r="1.45" fill="#1400f0" stroke="#000" stroke-width="0.6"/>
<circle cx="122.08" cy="91.25" r="1.45" fill="#1400f0" stroke="#000" stroke-width="0.6"/>
<circle cx="124.49" cy="83.12" r="1.45" fill="#1400f0" stroke="#000" stroke-width="0.6"/>
<circle cx="151.39" cy="85.39" r="1.45" fill="#1400f0" stroke="#000" stroke-width="0.6"/>
<circle cx="100.87" cy="90.86" r="1.45" fill="#1400f0" stroke="#000" stroke-width="0.6"/>
<circle cx="123.26" cy="95.47" r="1.45" fill="#1400f0" stroke="#000" stroke-width="0.6"/>
<circle cx="121.27" cy="100.96" r="1.45" fill="#1400f0" stroke="#000" stroke-width="0.6"/>
<circle cx="108.02" cy="91.36" r="1.45" fill="#1400f0" stroke="#000" stroke-width="0.6"/>
<circle cx="123.77" cy="99.77" r="1.45" fill="#1400f0" stroke="#000" stroke-width="0.6"/>
<circle cx="156.66" cy="66.53" r="1.45" fill="#1400f0" stroke="#000" stroke-width="0.6"/>
<circle cx="123.73" cy="68.92" r="1.45" fill="#1400f0" stroke="#000" stroke-width="0.6"/>
<circle cx="126.52" cy="69.61" r="1.45" fill="#1400f0" stroke="#000" stroke-width="0.6"/>
<circle cx="109.23" cy="77.14" r="1.45" fill="#1400f0" stroke="#000" stroke-width="0.6"/>
<circle cx="113.10" cy="97.49" r="1.45" fill="#1400f0" stroke="#000" stroke-width="0.6"/>
<circle cx="153.41" cy="58.37" r="1.45" fill="#1400f0" stroke="#000" stroke-width="0.6"/>
<circle cx="114.84" cy="90.17" r="1.45" fill="#1400f0" stroke="#000" stroke-width="0.6"/>
<circle cx="120.94" cy="91.11" r="1.45" fill="#1400f0" stroke="#000" stroke-width="0.6"/>
<circle cx="108.24" cy="79.81" r="1.45" fill="#1400f0" stroke="#000" stroke-width="0.6"/>
<circle cx="155.56" cy="87.89" r="1.45" fill="#1400f0" stroke="#000" stroke-width="0.6"/>
<circle cx="136.50" cy="73.50" r="1.45" fill="#1400f0" stroke="#000" stroke-width="0.6"/>
<circle cx="120.70" cy="78.02" r="1.45" fill="#1400f0" stroke="#000" stroke-width="0.6"/>
<circle cx="132.95" cy="99.50" r="1.45" fill="#1400f0" stroke="#000" stroke-width="0.6"/>
<circle cx="113.35" cy="82.02" r="1.45" fill="#1400f0" stroke="#000" stroke-width="0.6"/>
<circle cx="114.63" cy="81.00" r="1.45" fill="#1400f0" stroke="#000" stroke-width="0.6"/>
<circle cx="141.56" cy="62.88" r="1.45" fill="#1400f0" stroke="#000" stroke-width="0.6"/>
<circle cx="127.17" cy="88.05" r="1.45" fill="#1400f0" stroke="#000" stroke-width="0.6"/>
<circle cx="99.97" cy="90.93" r="1.45" fill="#1400f0" stroke="#000" stroke-width="0.6"/>
<circle cx="123.58" cy="79.18" r="1.45" fill="#1400f0" stroke="#000" stroke-width="0.6"/>
<circle cx="134.60" cy="91.89" r="1.45" fill="#1400f0" stroke="#000" stroke-width="0.6"/>
<circle cx="116.62" cy="76.80" r="1.45" fill="#1400f0" stroke="#000" stroke-width="0.6"/>
<circle cx="137.16" cy="97.69" r="1.45" fill="#1400f0" stroke="#000" stroke-width="0.6"/>
<circle cx="120.80" cy="80.32" r="1.45" fill="#1400f0" stroke="#000" stroke-width="0.6"/>
<circle cx="140.51" cy="98.24" r="1.45" fill="#1400f0" stroke="#000" stroke-width="0.6"/>
<circle cx="153.08" cy="60.40" r="1.45" fill="#1400f0" stroke="#000" stroke-width="0.6"/>
<circle cx="125.30" cy="89.39" r="1.45" fill="#1400f0" stroke="#000" stroke-width="0.6"/>
<circle cx="129.90" cy="74.10" r="1.45" fill="#1400f0" stroke="#000" stroke-width="0.6"/>
<circle cx="152.66" cy="70.17" r="1.45" fill="#1400f0" stroke="#000" stroke-width="0.6"/>
<circle cx="131.22" cy="93.51" r="1.45" fill="#1400f0" stroke="#000" stroke-width="0.6"/>
<circle cx="127.92" cy="81.90" r="1.45" fill="#1400f0" stroke="#000" stroke-width="0.6"/>
<circle cx="111.42" cy="76.97" r="1.45" fill="#1400f0" stroke="#000" stroke-width="0.6"/>
<circle cx="155.13" cy="68.59" r="1.45" fill="#1400f0" stroke="#000" stroke-width="0.6"/>
<circle cx="115.36" cy="91.48" r="1.45" fill="#1400f0" stroke="#000" stroke-width="0.6"/>
<circle cx="142.12" cy="68.53" r="1.45" fill="#1400f0" stroke="#000" stroke-width="0.6"/>
<circle cx="147.18" cy="84.53" r="1.45" fill="#1400f0" stroke="#000" stroke-width="0.6"/>
<circle cx="121.85" cy="84.67" r="1.45" fill="#1400f0" stroke="#000" stroke-width="0.6"/>
<circle cx="149.90" cy="76.30" r="1.45" fill="#1400f0" stroke="#000" stroke-width="0.6"/>
<circle cx="151.09" cy="64.78" r="1.45" fill="#1400f0" stroke="#000" stroke-width="0.6"/>
<circle cx="142.03" cy="81.69" r="1.45" fill="#1400f0" stroke="#000" stroke-width="0.6"/>
<circle cx="146.88" cy="78.75" r="1.45" fill="#1400f0" stroke="#000" stroke-width="0.6"/>
<circle cx="140.96" cy="83.90" r="1.45" fill="#1400f0" stroke="#000" stroke-width="0.6"/>
<circle cx="134.69" cy="66.75" r="1.45" fill="#1400f0" stroke="#000" stroke-width="0.6"/>
<circle cx="154.07" cy="61.89" r="1.45" fill="#1400f0" stroke="#000" stroke-width="0.6"/>
<circle cx="103.18" cy="87.10" r="1.45" fill="#1400f0" stroke="#000" stroke-width="0.6"/>
<circle cx="125.97" cy="85.55" r="1.45" fill="#1400f0" stroke="#000" stroke-width="0.6"/>
<circle cx="103.49" cy="85.30" r="1.45" fill="#1400f0" stroke="#000" stroke-width="0.6"/>
<circle cx="148.01" cy="62.30" r="1.45" fill="#1400f0" stroke="#000" stroke-width="0.6"/>
<circle cx="142.88" cy="68.38" r="1.45" fill="#1400f0" stroke="#000" stroke-width="0.6"/>
<circle cx="143.10" cy="79.69" r="1.45" fill="#1400f0" stroke="#000" stroke-width="0.6"/>
<circle cx="151.36" cy="77.48" r="1.45" fill="#1400f0" stroke="#000" stroke-width="0.6"/>
<circle cx="114.64" cy="98.66" r="1.45" fill="#1400f0" stroke="#000" stroke-width="0.6"/>
<circle cx="123.95" cy="84.35" r="1.45" fill="#1400f0" stroke="#000" stroke-width="0.6"/>
<circle cx="136.91" cy="64.69" r="1.45" fill="#1400f0" stroke="#000" stroke-width="0.6"/>
<circle cx="107.48" cy="78.61" r="1.45" fill="#1400f0" stroke="#000" stroke-width="0.6"/>
<circle cx="139.01" cy="76.67" r="1.45" fill="#1400f0" stroke="#000" stroke-width="0.6"/>
<circle cx="127.89" cy="80.59" r="1.45" fill="#1400f0" stroke="#000" stroke-width="0.6"/>
<circle cx="151.26" cy="81.43" r="1.45" fill="#1400f0" stroke="#000" stroke-width="0.6"/>
<circle cx="137.59" cy="75.46" r="1.45" fill="#1400f0" stroke="#000" stroke-width="0.6"/>
<circle cx="150.66" cy="68.64" r="1.45" fill="#1400f0" stroke="#000" stroke-width="0.6"/>
<circle cx="135.69" cy="85.19" r="1.45" fill="#1400f0" stroke="#000" stroke-width="0.6"/>
<circle cx="154.48" cy="62.12" r="1.45" fill="#1400f0" stroke="#000" stroke-width="0.6"/>
<circle cx="143.77" cy="71.80" r="1.45" fill="#1400f0" stroke="#000" stroke-width="0.6"/>
<circle cx="148.05" cy="82.63" r="1.45" fill="#1400f0" stroke="#000" stroke-width="0.6"/>
<circle cx="102.37" cy="99.77" r="1.45" fill="#1400f0" stroke="#000" stroke-width="0.6"/>
<circle cx="121.59" cy="85.00" r="1.45" fill="#1400f0" stroke="#000" stroke-width="0.6"/>
<circle cx="141.13" cy="68.47" r="1.45" fill="#1400f0" stroke="#000" stroke-width="0.6"/>
<circle cx="122.98" cy="71.49" r="1.45" fill="#1400f0" stroke="#000" stroke-width="0.6"/>
<circle cx="140.72" cy="75.06" r="1.45" fill="#1400f0" stroke="#000" stroke-width="0.6"/>
<circle cx="149.51" cy="59.76" r="1.45" fill="#1400f0" stroke="#000" stroke-width="0.6"/>
<circle cx="151.04" cy="79.28" r="1.45" fill="#1400f0" stroke="#000" stroke-width="0.6"/>
<circle cx="131.99" cy="69.76" r="1.45" fill="#1400f0" stroke="#000" stroke-width="0.6"/>
<circle cx="105.70" cy="79.51" r="1.45" fill="#1400f0" stroke="#000" stroke-width="0.6"/>
<circle cx="143.70" cy="62.05" r="1.45" fill="#1400f0" stroke="#000" stroke-width="0.6"/>
<circle cx="156.27" cy="80.88" r="1.45" fill="#1400f0" stroke="#000" stroke-width="0.6"/>
<circle cx="124.65" cy="68.98" r="1.45" fill="#1400f0" stroke="#000" stroke-width="0.6"/>
<circle cx="131.18" cy="99.81" r="1.45" fill="#1400f0" stroke="#000" stroke-width="0.6"/>
<circle cx="129.09" cy="97.40" r="1.45" fill="#1400f0" stroke="#000" stroke-width="0.6"/>
<circle cx="121.45" cy="84.89" r="1.45" fill="#1400f0" stroke="#000" stroke-width="0.6"/>
<circle cx="152.33" cy="71.33" r="1.45" fill="#1400f0" stroke="#000" stroke-width="0.6"/>
<circle cx="146.13" cy="80.28" r="1.45" fill="#1400f0" stroke="#000" stroke-width="0.6"/>
<circle cx="153.49" cy="77.50" r="1.45" fill="#1400f0" stroke="#000" stroke-width="0.6"/>
<circle cx="124.98" cy="97.37" r="1.45" fill="#1400f0" stroke="#000" stroke-width="0.6"/>
<circle cx="132.50" cy="79.01" r="1.45" fill="#1400f0" stroke="#000" stroke-width="0.6"/>
<circle cx="115.84" cy="89.74" r="1.45" fill="#1400f0" stroke="#000" stroke-width="0.6"/>
<circle cx="114.23" cy="77.70" r="1.45" fill="#1400f0" stroke="#000" stroke-width="0.6"/>
<circle cx="143.12" cy="83.61" r="1.45" fill="#1400f0" stroke="#000" stroke-width="0.6"/>
<circle cx="105.40" cy="100.89" r="1.45" fill="#1400f0" stroke="#000" stroke-width="0.6"/>
<circle cx="108.88" cy="87.74" r="1.45" fill="#1400f0" stroke="#000" stroke-width="0.6"/>
<circle cx="102.52" cy="88.71" r="1.45" fill="#1400f0" stroke="#000" stroke-width="0.6"/>
<circle cx="106.53" cy="90.62" r="1.45" fill="#1400f0" stroke="#000" stroke-width="0.6"/>
<circle cx="118.85" cy="83.04" r="1.45" fill="#1400f0" stroke="#000" stroke-width="0.6"/>
<circle cx="136.25" cy="78.50" r="1.45" fill="#1400f0" stroke="#000" stroke-width="0.6"/>
<circle cx="149.92" cy="62.84" r="1.45" fill="#1400f0" stroke="#000" stroke-width="0.6"/>
<circle cx="123.65" cy="75.24" r="1.45" fill="#1400f0" stroke="#000" stroke-width="0.6"/>
<circle cx="155.64" cy="62.64" r="1.45" fill="#1400f0" stroke="#000" stroke-width="0.6"/>
<circle cx="137.17" cy="90.31" r="1.45" fill="#1400f0" stroke="#000" stroke-width="0.6"/>
<circle cx="153.76" cy="70.75" r="1.45" fill="#1400f0" stroke="#000" stroke-width="0.6"/>
<circle cx="148.55" cy="86.10" r="1.45" fill="#1400f0" stroke="#000" stroke-width="0.6"/>
<circle cx="123.70" cy="93.86" r="1.45" fill="#1400f0" stroke="#000" stroke-width="0.6"/>
<circle cx="138.36" cy="71.95" r="1.45" fill="#1400f0" stroke="#000" stroke-width="0.6"/>
<circle cx="141.58" cy="79.23" r="1.45" fill="#1400f0" stroke="#000" stroke-width="0.6"/>
<circle cx="140.41" cy="84.03" r="1.45" fill="#1400f0" stroke="#000" stroke-width="0.6"/>
<circle cx="145.27" cy="64.01" r="1.45" fill="#1400f0" stroke="#000" stroke-width="0.6"/>
<circle cx="130.28" cy="78.06" r="1.45" fill="#1400f0" stroke="#000" stroke-width="0.6"/>
<circle cx="113.20" cy="93.48" r="1.45" fill="#1400f0" stroke="#000" stroke-width="0.6"/>
<circle cx="136.93" cy="73.94" r="1.45" fill="#1400f0" stroke="#000" stroke-width="0.6"/>
<circle cx="136.57" cy="67.08" r="1.45" fill="#1400f0" stroke="#000" stroke-width="0.6"/>
<circle cx="137.26" cy="82.58" r="1.45" fill="#1400f0" stroke="#000" stroke-width="0.6"/>
<circle cx="142.25" cy="79.17" r="1.45" fill="#1400f0" stroke="#000" stroke-width="0.6"/>
<circle cx="124.50" cy="70.48" r="1.45" fill="#1400f0" stroke="#000" stroke-width="0.6"/>
<circle cx="141.78" cy="73.40" r="1.45" fill="#1400f0" stroke="#000" stroke-width="0.6"/>
<circle cx="133.81" cy="90.34" r="1.45" fill="#1400f0" stroke="#000" stroke-width="0.6"/>
<circle cx="125.06" cy="87.19" r="1.45" fill="#1400f0" stroke="#000" stroke-width="0.6"/>
<circle cx="147.84" cy="63.49" r="1.45" fill="#1400f0" stroke="#000" stroke-width="0.6"/>
<circle cx="125.84" cy="76.29" r="1.45" fill="#1400f0" stroke="#000" stroke-width="0.6"/>
<circle cx="145.67" cy="77.97" r="1.45" fill="#1400f0" stroke="#000" stroke-width="0.6"/>
<circle cx="134.81" cy="88.50" r="1.45" fill="#1400f0" stroke="#000" stroke-width="0.6"/>
<circle cx="148.43" cy="84.16" r="1.45" fill="#1400f0" stroke="#000" stroke-width="0.6"/>
<circle cx="100.67" cy="95.92" r="1.45" fill="#1400f0" stroke="#000" stroke-width="0.6"/>
<circle cx="156.40" cy="65.86" r="1.45" fill="#1400f0" stroke="#000" stroke-width="0.6"/>
<circle cx="116.75" cy="89.07" r="1.45" fill="#1400f0" stroke="#000" stroke-width="0.6"/>
<circle cx="139.13" cy="66.55" r="1.45" fill="#1400f0" stroke="#000" stroke-width="0.6"/>
<circle cx="122.65" cy="76.84" r="1.45" fill="#1400f0" stroke="#000" stroke-width="0.6"/>
<circle cx="125.70" cy="90.78" r="1.45" fill="#1400f0" stroke="#000" stroke-width="0.6"/>
<circle cx="139.37" cy="94.85" r="1.45" fill="#1400f0" stroke="#000" stroke-width="0.6"/>
<circle cx="138.77" cy="90.56" r="1.45" fill="#1400f0" stroke="#000" stroke-width="0.6"/>
<circle cx="145.10" cy="75.31" r="1.45" fill="#1400f0" stroke="#000" stroke-width="0.6"/>
<circle cx="138.71" cy="90.85" r="1.45" fill="#1400f0" stroke="#000" stroke-width="0.6"/>
<circle cx="110.54" cy="80.47" r="1.45" fill="#1400f0" stroke="#000" stroke-width="0.6"/>
<circle cx="147.82" cy="73.09" r="1.45" fill="#1400f0" stroke="#000" stroke-width="0.6"/>
<circle cx="131.12" cy="99.14" r="1.45" fill="#1400f0" stroke="#000" stroke-width="0.6"/>
<circle cx="147.46" cy="71.35" r="1.45" fill="#1400f0" stroke="#000" stroke-width="0.6"/>
<circle cx="152.66" cy="60.51" r="1.45" fill="#1400f0" stroke="#000" stroke-width="0.6"/>
<circle cx="102.86" cy="83.48" r="1.45" fill="#1400f0" stroke="#000" stroke-width="0.6"/>
<circle cx="143.03" cy="78.02" r="1.45" fill="#1400f0" stroke="#000" stroke-width="0.6"/>
<circle cx="145.69" cy="76.86" r="1.45" fill="#1400f0" stroke="#000" stroke-width="0.6"/>
<circle cx="152.33" cy="83.75" r="1.45" fill="#1400f0" stroke="#000" stroke-width="0.6"/>
<circle cx="124.02" cy="76.37" r="1.45" fill="#1400f0" stroke="#000" stroke-width="0.6"/>
<circle cx="146.81" cy="67.10" r="1.45" fill="#1400f0" stroke="#000" stroke-width="0.6"/>
<circle cx="116.44" cy="92.93" r="1.45" fill="#1400f0" stroke="#000" stroke-width="0.6"/>
<circle cx="112.13" cy="86.27" r="1.45" fill="#1400f0" stroke="#000" stroke-width="0.6"/>
<circle cx="141.49" cy="74.92" r="1.45" fill="#1400f0" stroke="#000" stroke-width="0.6"/>
<circle cx="117.94" cy="94.69" r="1.45" fill="#1400f0" stroke="#000" stroke-width="0.6"/>
<circle cx="144.28" cy="70.62" r="1.45" fill="#1400f0" stroke="#000" stroke-width="0.6"/>
<circle cx="129.01" cy="77.66" r="1.45" fill="#1400f0" stroke="#000" stroke-width="0.6"/>
<circle cx="115.50" cy="76.78" r="1.45" fill="#1400f0" stroke="#000" stroke-width="0.6"/>
<circle cx="103.59" cy="86.67" r="1.45" fill="#1400f0" stroke="#000" stroke-width="0.6"/>
<circle cx="153.04" cy="69.84" r="1.45" fill="#1400f0" stroke="#000" stroke-width="0.6"/>
<circle cx="153.84" cy="60.87" r="1.45" fill="#1400f0" stroke="#000" stroke-width="0.6"/>
<circle cx="138.70" cy="77.31" r="1.45" fill="#1400f0" stroke="#000" stroke-width="0.6"/>
<circle cx="105.15" cy="94.94" r="1.45" fill="#1400f0" stroke="#000" stroke-width="0.6"/>
<circle cx="118.37" cy="87.19" r="1.45" fill="#1400f0" stroke="#000" stroke-width="0.6"/>
<circle cx="125.54" cy="95.36" r="1.45" fill="#1400f0" stroke="#000" stroke-width="0.6"/>
<circle cx="146.76" cy="79.11" r="1.45" fill="#1400f0" stroke="#000" stroke-width="0.6"/>
<circle cx="119.44" cy="79.30" r="1.45" fill="#1400f0" stroke="#000" stroke-width="0.6"/>
<circle cx="148.13" cy="82.07" r="1.45" fill="#1400f0" stroke="#000" stroke-width="0.6"/>
<circle cx="125.46" cy="85.90" r="1.45" fill="#1400f0" stroke="#000" stroke-width="0.6"/>
<circle cx="134.87" cy="74.84" r="1.45" fill="#1400f0" stroke="#000" stroke-width="0.6"/>
<circle cx="124.75" cy="95.67" r="1.45" fill="#1400f0" stroke="#000" stroke-width="0.6"/>
<circle cx="117.10" cy="73.07" r="1.45" fill="#1400f0" stroke="#000" stroke-width="0.6"/>
<circle cx="134.19" cy="82.98" r="1.45" fill="#1400f0" stroke="#000" stroke-width="0.6"/>
<circle cx="109.58" cy="76.62" r="1.45" fill="#1400f0" stroke="#000" stroke-width="0.6"/>
<circle cx="105.75" cy="90.24" r="1.45" fill="#1400f0" stroke="#000" stroke-width="0.6"/>
<circle cx="151.55" cy="59.97" r="1.45" fill="#1400f0" stroke="#000" stroke-width="0.6"/>
<circle cx="104.18" cy="84.57" r="1.45" fill="#1400f0" stroke="#000" stroke-width="0.6"/>
<circle cx="115.86" cy="85.89" r="1.45" fill="#1400f0" stroke="#000" stroke-width="0.6"/>
<circle cx="139.38" cy="79.44" r="1.45" fill="#1400f0" stroke="#000" stroke-width="0.6"/>
<circle cx="109.70" cy="77.88" r="1.45" fill="#1400f0" stroke="#000" stroke-width="0.6"/>
<circle cx="117.87" cy="84.50" r="1.45" fill="#1400f0" stroke="#000" stroke-width="0.6"/>
<circle cx="105.90" cy="95.95" r="1.45" fill="#1400f0" stroke="#000" stroke-width="0.6"/>
<circle cx="120.80" cy="91.49" r="1.45" fill="#1400f0" stroke="#000" stroke-width="0.6"/>
<circle cx="121.94" cy="94.70" r="1.45" fill="#1400f0" stroke="#000" stroke-width="0.6"/>
<circle cx="156.83" cy="62.73" r="1.45" fill="#1400f0" stroke="#000" stroke-width="0.6"/>
<circle cx="125.82" cy="69.23" r="1.45" fill="#1400f0" stroke="#000" stroke-width="0.6"/>
<circle cx="153.08" cy="74.69" r="1.45" fill="#1400f0" stroke="#000" stroke-width="0.6"/>
<circle cx="114.18" cy="84.26" r="1.45" fill="#1400f0" stroke="#000" stroke-width="0.6"/>
<circle cx="124.65" cy="84.00" r="1.45" fill="#1400f0" stroke="#000" stroke-width="0.6"/>
<circle cx="125.63" cy="69.60" r="1.45" fill="#1400f0" stroke="#000" stroke-width="0.6"/>
<circle cx="101.54" cy="93.01" r="1.45" fill="#1400f0" stroke="#000" stroke-width="0.6"/>
<circle cx="137.39" cy="67.72" r="1.45" fill="#1400f0" stroke="#000" stroke-width="0.6"/>
<circle cx="128.21" cy="82.56" r="1.45" fill="#1400f0" stroke="#000" stroke-width="0.6"/>
<circle cx="128.46" cy="96.64" r="1.45" fill="#1400f0" stroke="#000" stroke-width="0.6"/>
<circle cx="144.27" cy="70.48" r="1.45" fill="#1400f0" stroke="#000" stroke-width="0.6"/>
<circle cx="118.98" cy="83.92" r="1.45" fill="#1400f0" stroke="#000" stroke-width="0.6"/>
<circle cx="108.83" cy="98.10" r="1.45" fill="#1400f0" stroke="#000" stroke-width="0.6"/>
<circle cx="115.22" cy="80.15" r="1.45" fill="#1400f0" stroke="#000" stroke-width="0.6"/>
<circle cx="112.21" cy="77.07" r="1.45" fill="#1400f0" stroke="#000" stroke-width="0.6"/>
<circle cx="110.53" cy="100.31" r="1.45" fill="#1400f0" stroke="#000" stroke-width="0.6"/>
<circle cx="144.50" cy="68.22" r="1.45" fill="#1400f0" stroke="#000" stroke-width="0.6"/>
<circle cx="140.89" cy="78.61" r="1.45" fill="#1400f0" stroke="#000" stroke-width="0.6"/>
<circle cx="141.45" cy="89.18" r="1.45" fill="#1400f0" stroke="#000" stroke-width="0.6"/>
<circle cx="151.93" cy="81.52" r="1.45" fill="#1400f0" stroke="#000" stroke-width="0.6"/>
<circle cx="121.54" cy="82.22" r="1.45" fill="#1400f0" stroke="#000" stroke-width="0.6"/>
<circle cx="114.45" cy="77.13" r="1.45" fill="#1400f0" stroke="#000" stroke-width="0.6"/>
<circle cx="154.53" cy="78.43" r="1.45" fill="#1400f0" stroke="#000" stroke-width="0.6"/>
<circle cx="133.56" cy="71.18" r="1.45" fill="#1400f0" stroke="#000" stroke-width="0.6"/>
<circle cx="122.08" cy="70.96" r="1.45" fill="#1400f0" stroke="#000" stroke-width="0.6"/>
<circle cx="144.96" cy="69.99" r="1.45" fill="#1400f0" stroke="#000" stroke-width="0.6"/>
<circle cx="133.11" cy="67.03" r="1.45" fill="#1400f0" stroke="#000" stroke-width="0.6"/>
<circle cx="137.70" cy="82.71" r="1.45" fill="#1400f0" stroke="#000" stroke-width="0.6"/>
<circle cx="115.70" cy="89.15" r="1.45" fill="#1400f0" stroke="#000" stroke-width="0.6"/>
<circle cx="111.37" cy="97.53" r="1.45" fill="#1400f0" stroke="#000" stroke-width="0.6"/>
<circle cx="127.51" cy="95.35" r="1.45" fill="#1400f0" stroke="#000" stroke-width="0.6"/>
<circle cx="135.68" cy="87.40" r="1.45" fill="#1400f0" stroke="#000" stroke-width="0.6"/>
<circle cx="126.28" cy="80.99" r="1.45" fill="#1400f0" stroke="#000" stroke-width="0.6"/>
<circle cx="104.97" cy="89.63" r="1.45" fill="#1400f0" stroke="#000" stroke-width="0.6"/>
<circle cx="119.43" cy="77.91" r="1.45" fill="#1400f0" stroke="#000" stroke-width="0.6"/>
<circle cx="129.51" cy="93.91" r="1.45" fill="#1400f0" stroke="#000" stroke-width="0.6"/>
<circle cx="116.87" cy="81.63" r="1.45" fill="#1400f0" stroke="#000" stroke-width="0.6"/>
<circle cx="134.31" cy="85.84" r="1.45" fill="#1400f0" stroke="#000" stroke-width="0.6"/>
<circle cx="126.55" cy="83.45" r="1.45" fill="#1400f0" stroke="#000" stroke-width="0.6"/>
<circle cx="125.15" cy="81.65" r="1.45" fill="#1400f0" stroke="#000" stroke-width="0.6"/>
<circle cx="128.17" cy="69.97" r="1.45" fill="#1400f0" stroke="#000" stroke-width="0.6"/>
<circle cx="151.81" cy="60.49" r="1.45" fill="#1400f0" stroke="#000" stroke-width="0.6"/>
<circle cx="119.72" cy="87.58" r="1.45" fill="#1400f0" stroke="#000" stroke-width="0.6"/>
<circle cx="150.96" cy="76.45" r="1.45" fill="#1400f0" stroke="#000" stroke-width="0.6"/>
<circle cx="114.31" cy="78.13" r="1.45" fill="#1400f0" stroke="#000" stroke-width="0.6"/>
<circle cx="126.94" cy="80.65" r="1.45" fill="#1400f0" stroke="#000" stroke-width="0.6"/>
<circle cx="128.54" cy="86.14" r="1.45" fill="#1400f0" stroke="#000" stroke-width="0.6"/>
<circle cx="118.53" cy="87.11" r="1.45" fill="#1400f0" stroke="#000" stroke-width="0.6"/>
<circle cx="120.65" cy="84.12" r="1.45" fill="#1400f0" stroke="#000" stroke-width="0.6"/>
<circle cx="134.81" cy="86.48" r="1.45" fill="#1400f0" stroke="#000" stroke-width="0.6"/>
<circle cx="112.76" cy="84.02" r="1.45" fill="#1400f0" stroke="#000" stroke-width="0.6"/>
<circle cx="142.87" cy="66.98" r="1.45" fill="#1400f0" stroke="#000" stroke-width="0.6"/>
<circle cx="127.80" cy="80.05" r="1.45" fill="#1400f0" stroke="#000" stroke-width="0.6"/>
<circle cx="141.03" cy="90.67" r="1.45" fill="#1400f0" stroke="#000" stroke-width="0.6"/>
<circle cx="126.42" cy="98.34" r="1.45" fill="#1400f0" stroke="#000" stroke-width="0.6"/>
<circle cx="124.97" cy="81.92" r="1.45" fill="#1400f0" stroke="#000" stroke-width="0.6"/>
<circle cx="156.51" cy="71.25" r="1.45" fill="#1400f0" stroke="#000" stroke-width="0.6"/>
<circle cx="140.56" cy="99.08" r="1.45" fill="#1400f0" stroke="#000" stroke-width="0.6"/>
<circle cx="104.36" cy="91.20" r="1.45" fill="#1400f0" stroke="#000" stroke-width="0.6"/>
<circle cx="136.98" cy="80.75" r="1.45" fill="#1400f0" stroke="#000" stroke-width="0.6"/>
<circle cx="107.93" cy="78.41" r="1.45" fill="#1400f0" stroke="#000" stroke-width="0.6"/>
<circle cx="134.89" cy="87.75" r="1.45" fill="#1400f0" stroke="#000" stroke-width="0.6"/>
<circle cx="124.01" cy="97.19" r="1.45" fill="#1400f0" stroke="#000" stroke-width="0.6"/>
<circle cx="118.68" cy="90.87" r="1.45" fill="#1400f0" stroke="#000" stroke-width="0.6"/>
<circle cx="130.07" cy="86.37" r="1.45" fill="#1400f0" stroke="#000" stroke-width="0.6"/>
<circle cx="140.57" cy="99.70" r="1.45" fill="#1400f0" stroke="#000" stroke-width="0.6"/>
<circle cx="127.88" cy="78.71" r="1.45" fill="#1400f0" stroke="#000" stroke-width="0.6"/>
<circle cx="137.30" cy="81.72" r="1.45" fill="#1400f0" stroke="#000" stroke-width="0.6"/>
<circle cx="102.32" cy="99.21" r="1.45" fill="#1400f0" stroke="#000" stroke-width="0.6"/>
<circle cx="117.83" cy="78.98" r="1.45" fill="#1400f0" stroke="#000" stroke-width="0.6"/>
<circle cx="152.90" cy="69.20" r="1.45" fill="#1400f0" stroke="#000" stroke-width="0.6"/>
<circle cx="116.67" cy="92.72" r="1.45" fill="#1400f0" stroke="#000" stroke-width="0.6"/>
<circle cx="113.38" cy="86.37" r="1.45" fill="#1400f0" stroke="#000" stroke-width="0.6"/>
<circle cx="126.92" cy="71.46" r="1.45" fill="#1400f0" stroke="#000" stroke-width="0.6"/>
<circle cx="172.02" cy="46.50" r="1.45" fill="#1400f0" stroke="#000" stroke-width="0.6"/>
<circle cx="170.99" cy="53.32" r="1.45" fill="#1400f0" stroke="#000" stroke-width="0.6"/>
<circle cx="174.14" cy="44.12" r="1.45" fill="#1400f0" stroke="#000" stroke-width="0.6"/>
<circle cx="174.90" cy="46.84" r="1.45" fill="#1400f0" stroke="#000" stroke-width="0.6"/>
<circle cx="168.45" cy="56.13" r="1.45" fill="#1400f0" stroke="#000" stroke-width="0.6"/>
<circle cx="167.79" cy="49.91" r="1.45" fill="#1400f0" stroke="#000" stroke-width="0.6"/>
<circle cx="180.85" cy="47.71" r="1.45" fill="#1400f0" stroke="#000" stroke-width="0.6"/>
<circle cx="182.09" cy="42.79" r="1.45" fill="#1400f0" stroke="#000" stroke-width="0.6"/>
<circle cx="181.22" cy="49.64" r="1.45" fill="#1400f0" stroke="#000" stroke-width="0.6"/>
<circle cx="166.05" cy="46.67" r="1.45" fill="#1400f0" stroke="#000" stroke-width="0.6"/>
<circle cx="182.81" cy="54.89" r="1.45" fill="#1400f0" stroke="#000" stroke-width="0.6"/>
<circle cx="178.53" cy="56.60" r="1.45" fill="#1400f0" stroke="#000" stroke-width="0.6"/>
<circle cx="166.11" cy="47.52" r="1.45" fill="#1400f0" stroke="#000" stroke-width="0.6"/>
<circle cx="173.92" cy="58.37" r="1.45" fill="#1400f0" stroke="#000" stroke-width="0.6"/>
<circle cx="181.44" cy="44.69" r="1.45" fill="#1400f0" stroke="#000" stroke-width="0.6"/>
<circle cx="182.78" cy="51.98" r="1.45" fill="#1400f0" stroke="#000" stroke-width="0.6"/>
<circle cx="171.18" cy="43.49" r="1.45" fill="#1400f0" stroke="#000" stroke-width="0.6"/>
<circle cx="173.25" cy="51.37" r="1.45" fill="#1400f0" stroke="#000" stroke-width="0.6"/>
<circle cx="173.71" cy="47.59" r="1.45" fill="#1400f0" stroke="#000" stroke-width="0.6"/>
<circle cx="182.11" cy="50.56" r="1.45" fill="#1400f0" stroke="#000" stroke-width="0.6"/>
<circle cx="171.23" cy="56.00" r="1.45" fill="#1400f0" stroke="#000" stroke-width="0.6"/>
<circle cx="170.15" cy="49.61" r="1.45" fill="#1400f0" stroke="#000" stroke-width="0.6"/>
<circle cx="167.77" cy="46.28" r="1.45" fill="#1400f0" stroke="#000" stroke-width="0.6"/>
<circle cx="182.95" cy="53.18" r="1.45" fill="#1400f0" stroke="#000" stroke-width="0.6"/>
<circle cx="174.90" cy="54.12" r="1.45" fill="#1400f0" stroke="#000" stroke-width="0.6"/>
<circle cx="172.23" cy="44.65" r="1.45" fill="#1400f0" stroke="#000" stroke-width="0.6"/>
<circle cx="166.50" cy="44.18" r="1.45" fill="#1400f0" stroke="#000" stroke-width="0.6"/>
<circle cx="177.47" cy="48.07" r="1.45" fill="#1400f0" stroke="#000" stroke-width="0.6"/>
<circle cx="169.97" cy="47.65" r="1.45" fill="#1400f0" stroke="#000" stroke-width="0.6"/>
<circle cx="174.38" cy="45.77" r="1.45" fill="#1400f0" stroke="#000" stroke-width="0.6"/>
<circle cx="167.17" cy="43.53" r="1.45" fill="#1400f0" stroke="#000" stroke-width="0.6"/>
<circle cx="170.95" cy="54.84" r="1.45" fill="#1400f0" stroke="#000" stroke-width="0.6"/>
<circle cx="166.78" cy="58.00" r="1.45" fill="#1400f0" stroke="#000" stroke-width="0.6"/>
<circle cx="181.92" cy="53.96" r="1.45" fill="#1400f0" stroke="#000" stroke-width="0.6"/>
<circle cx="166.86" cy="49.66" r="1.45" fill="#1400f0" stroke="#000" stroke-width="0.6"/>
<circle cx="169.55" cy="46.22" r="1.45" fill="#1400f0" stroke="#000" stroke-width="0.6"/>
<circle cx="167.08" cy="51.39" r="1.45" fill="#1400f0" stroke="#000" stroke-width="0.6"/>
<circle cx="169.08" cy="50.02" r="1.45" fill="#1400f0" stroke="#000" stroke-width="0.6"/>
<circle cx="181.22" cy="58.22" r="1.45" fill="#1400f0" stroke="#000" stroke-width="0.6"/>
<circle cx="174.36" cy="56.11" r="1.45" fill="#1400f0" stroke="#000" stroke-width="0.6"/>
<circle cx="168.28" cy="59.06" r="1.45" fill="#1400f0" stroke="#000" stroke-width="0.6"/>
<circle cx="181.06" cy="47.35" r="1.45" fill="#1400f0" stroke="#000" stroke-width="0.6"/>
<circle cx="182.67" cy="47.81" r="1.45" fill="#1400f0" stroke="#000" stroke-width="0.6"/>
<circle cx="181.71" cy="57.07" r="1.45" fill="#1400f0" stroke="#000" stroke-width="0.6"/>
<circle cx="181.89" cy="55.09" r="1.45" fill="#1400f0" stroke="#000" stroke-width="0.6"/>
<circle cx="167.25" cy="47.03" r="1.45" fill="#1400f0" stroke="#000" stroke-width="0.6"/>
<circle cx="177.15" cy="58.36" r="1.45" fill="#1400f0" stroke="#000" stroke-width="0.6"/>
<circle cx="177.58" cy="42.70" r="1.45" fill="#1400f0" stroke="#000" stroke-width="0.6"/>
<circle cx="171.91" cy="48.21" r="1.45" fill="#1400f0" stroke="#000" stroke-width="0.6"/>
<circle cx="168.91" cy="46.05" r="1.45" fill="#1400f0" stroke="#000" stroke-width="0.6"/>
<circle cx="174.77" cy="48.71" r="1.45" fill="#1400f0" stroke="#000" stroke-width="0.6"/>
<circle cx="169.54" cy="69.89" r="1.45" fill="#1400f0" stroke="#000" stroke-width="0.6"/>
<circle cx="177.78" cy="82.38" r="1.45" fill="#1400f0" stroke="#000" stroke-width="0.6"/>
<circle cx="166.62" cy="64.71" r="1.45" fill="#1400f0" stroke="#000" stroke-width="0.6"/>
<circle cx="177.57" cy="78.07" r="1.45" fill="#1400f0" stroke="#000" stroke-width="0.6"/>
<circle cx="175.45" cy="71.43" r="1.45" fill="#1400f0" stroke="#000" stroke-width="0.6"/>
<circle cx="177.28" cy="70.27" r="1.45" fill="#1400f0" stroke="#000" stroke-width="0.6"/>
<circle cx="168.30" cy="65.27" r="1.45" fill="#1400f0" stroke="#000" stroke-width="0.6"/>
<circle cx="166.92" cy="60.88" r="1.45" fill="#1400f0" stroke="#000" stroke-width="0.6"/>
<circle cx="170.93" cy="69.90" r="1.45" fill="#1400f0" stroke="#000" stroke-width="0.6"/>
<circle cx="169.74" cy="78.75" r="1.45" fill="#1400f0" stroke="#000" stroke-width="0.6"/>
<circle cx="173.37" cy="64.09" r="1.45" fill="#1400f0" stroke="#000" stroke-width="0.6"/>
<circle cx="180.03" cy="82.29" r="1.45" fill="#1400f0" stroke="#000" stroke-width="0.6"/>
<circle cx="168.76" cy="75.34" r="1.45" fill="#1400f0" stroke="#000" stroke-width="0.6"/>
<circle cx="171.10" cy="67.15" r="1.45" fill="#1400f0" stroke="#000" stroke-width="0.6"/>
<circle cx="170.14" cy="74.58" r="1.45" fill="#1400f0" stroke="#000" stroke-width="0.6"/>
<circle cx="173.55" cy="71.71" r="1.45" fill="#1400f0" stroke="#000" stroke-width="0.6"/>
<circle cx="176.57" cy="71.36" r="1.45" fill="#1400f0" stroke="#000" stroke-width="0.6"/>
<circle cx="181.10" cy="70.53" r="1.45" fill="#1400f0" stroke="#000" stroke-width="0.6"/>
<circle cx="178.46" cy="82.33" r="1.45" fill="#1400f0" stroke="#000" stroke-width="0.6"/>
<circle cx="175.57" cy="74.15" r="1.45" fill="#1400f0" stroke="#000" stroke-width="0.6"/>
<circle cx="178.43" cy="77.09" r="1.45" fill="#1400f0" stroke="#000" stroke-width="0.6"/>
<circle cx="168.29" cy="70.00" r="1.45" fill="#1400f0" stroke="#000" stroke-width="0.6"/>
<circle cx="167.67" cy="60.51" r="1.45" fill="#1400f0" stroke="#000" stroke-width="0.6"/>
<circle cx="176.68" cy="67.89" r="1.45" fill="#1400f0" stroke="#000" stroke-width="0.6"/>
<circle cx="169.33" cy="60.62" r="1.45" fill="#1400f0" stroke="#000" stroke-width="0.6"/>
<circle cx="171.08" cy="70.47" r="1.45" fill="#1400f0" stroke="#000" stroke-width="0.6"/>
<circle cx="176.49" cy="81.78" r="1.45" fill="#1400f0" stroke="#000" stroke-width="0.6"/>
<circle cx="176.92" cy="65.26" r="1.45" fill="#1400f0" stroke="#000" stroke-width="0.6"/>
<circle cx="174.87" cy="75.46" r="1.45" fill="#1400f0" stroke="#000" stroke-width="0.6"/>
<circle cx="169.89" cy="81.34" r="1.45" fill="#1400f0" stroke="#000" stroke-width="0.6"/>
<circle cx="162.49" cy="79.88" r="1.45" fill="#1400f0" stroke="#000" stroke-width="0.6"/>
<circle cx="158.25" cy="83.30" r="1.45" fill="#1400f0" stroke="#000" stroke-width="0.6"/>
<circle cx="159.59" cy="77.31" r="1.45" fill="#1400f0" stroke="#000" stroke-width="0.6"/>
<circle cx="163.63" cy="69.02" r="1.45" fill="#1400f0" stroke="#000" stroke-width="0.6"/>
<circle cx="159.39" cy="69.25" r="1.45" fill="#1400f0" stroke="#000" stroke-width="0.6"/>
<circle cx="165.80" cy="78.41" r="1.45" fill="#1400f0" stroke="#000" stroke-width="0.6"/>
<circle cx="161.24" cy="75.73" r="1.45" fill="#1400f0" stroke="#000" stroke-width="0.6"/>
<circle cx="162.90" cy="67.34" r="1.45" fill="#1400f0" stroke="#000" stroke-width="0.6"/>
<circle cx="157.68" cy="63.06" r="1.45" fill="#1400f0" stroke="#000" stroke-width="0.6"/>
<circle cx="162.24" cy="76.76" r="1.45" fill="#1400f0" stroke="#000" stroke-width="0.6"/>
<circle cx="165.80" cy="77.39" r="1.45" fill="#1400f0" stroke="#000" stroke-width="0.6"/>
<circle cx="161.47" cy="71.81" r="1.45" fill="#1400f0" stroke="#000" stroke-width="0.6"/>
<circle cx="161.24" cy="70.41" r="1.45" fill="#1400f0" stroke="#000" stroke-width="0.6"/>
<circle cx="163.84" cy="76.11" r="1.45" fill="#1400f0" stroke="#000" stroke-width="0.6"/>
<circle cx="158.10" cy="86.75" r="1.45" fill="#1400f0" stroke="#000" stroke-width="0.6"/>
<circle cx="161.74" cy="80.96" r="1.45" fill="#1400f0" stroke="#000" stroke-width="0.6"/>
<circle cx="161.93" cy="76.48" r="1.45" fill="#1400f0" stroke="#000" stroke-width="0.6"/>
<circle cx="162.19" cy="63.21" r="1.45" fill="#1400f0" stroke="#000" stroke-width="0.6"/>
<circle cx="158.18" cy="80.47" r="1.45" fill="#1400f0" stroke="#000" stroke-width="0.6"/>
<circle cx="160.15" cy="63.61" r="1.45" fill="#1400f0" stroke="#000" stroke-width="0.6"/>
<circle cx="164.34" cy="80.94" r="1.45" fill="#1400f0" stroke="#000" stroke-width="0.6"/>
<rect x="32.3" y="15.9" width="190.2" height="134.29999999999998" fill="none" stroke="#9a9a9a" stroke-width="1"/>
<text x="28.6" y="153.14999999999998" text-anchor="end" font-size="8.75" fill="#000">0</text>
<text x="32.3" y="161.4" text-anchor="middle" font-size="8.75" fill="#000">0</text>
<line x1="32.3" y1="123.33999999999999" x2="34.9" y2="123.33999999999999" stroke="#777" stroke-width="0.8"/>
<line x1="70.34" y1="150.2" x2="70.34" y2="147.39999999999998" stroke="#777" stroke-width="0.8"/>
<text x="28.6" y="126.28999999999999" text-anchor="end" font-size="8.75" fill="#000">20</text>
<text x="70.34" y="161.4" text-anchor="middle" font-size="8.75" fill="#000">20</text>
<line x1="32.3" y1="96.47999999999999" x2="34.9" y2="96.47999999999999" stroke="#777" stroke-width="0.8"/>
<line x1="108.38" y1="150.2" x2="108.38" y2="147.39999999999998" stroke="#777" stroke-width="0.8"/>
<text x="28.6" y="99.42999999999999" text-anchor="end" font-size="8.75" fill="#000">40</text>
<text x="108.38" y="161.4" text-anchor="middle" font-size="8.75" fill="#000">40</text>
<line x1="32.3" y1="69.62" x2="34.9" y2="69.62" stroke="#777" stroke-width="0.8"/>
<line x1="146.42000000000002" y1="150.2" x2="146.42000000000002" y2="147.39999999999998" stroke="#777" stroke-width="0.8"/>
<text x="28.6" y="72.57000000000001" text-anchor="end" font-size="8.75" fill="#000">60</text>
<text x="146.42000000000002" y="161.4" text-anchor="middle" font-size="8.75" fill="#000">60</text>
<line x1="32.3" y1="42.760000000000005" x2="34.9" y2="42.760000000000005" stroke="#777" stroke-width="0.8"/>
<line x1="184.45999999999998" y1="150.2" x2="184.45999999999998" y2="147.39999999999998" stroke="#777" stroke-width="0.8"/>
<text x="28.6" y="45.71000000000001" text-anchor="end" font-size="8.75" fill="#000">80</text>
<text x="184.45999999999998" y="161.4" text-anchor="middle" font-size="8.75" fill="#000">80</text>
<text x="28.6" y="18.850000000000005" text-anchor="end" font-size="8.75" fill="#000">100</text>
<text x="222.5" y="161.4" text-anchor="middle" font-size="8.75" fill="#000">100</text>
<text x="127.5" y="174.3" text-anchor="middle" font-size="8.75" fill="#000">Calendar age</text>
<text x="8.4" y="83" text-anchor="middle" font-size="8.75" transform="rotate(-90 8.4 83)" fill="#000">iAge</text>
<text x="245.6" y="7.8" text-anchor="start" font-size="10" font-weight="bold" fill="#000">b</text>
<line x1="293.6" y1="35.7" x2="293.6" y2="54.2" stroke="#777" stroke-width="0.7" stroke-dasharray="1.5,1.6"/>
<line x1="293.6" y1="96.1" x2="293.6" y2="130.4" stroke="#777" stroke-width="0.7" stroke-dasharray="1.5,1.6"/>
<line x1="290.6" y1="35.7" x2="296.6" y2="35.7" stroke="#333" stroke-width="0.7"/>
<line x1="290.6" y1="130.4" x2="296.6" y2="130.4" stroke="#333" stroke-width="0.7"/>
<rect x="287.45000000000005" y="54.2" width="12.3" height="41.89999999999999" fill="none" stroke="#8a8a8a" stroke-width="0.9"/>
<line x1="308.40000000000003" y1="33.7" x2="308.40000000000003" y2="57.3" stroke="#777" stroke-width="0.7" stroke-dasharray="1.5,1.6"/>
<line x1="308.40000000000003" y1="87.2" x2="308.40000000000003" y2="118.0" stroke="#777" stroke-width="0.7" stroke-dasharray="1.5,1.6"/>
<line x1="305.40000000000003" y1="33.7" x2="311.40000000000003" y2="33.7" stroke="#333" stroke-width="0.7"/>
<line x1="305.40000000000003" y1="118.0" x2="311.40000000000003" y2="118.0" stroke="#333" stroke-width="0.7"/>
<rect x="302.25000000000006" y="57.3" width="12.3" height="29.900000000000006" fill="none" stroke="#8a8a8a" stroke-width="0.9"/>
<line x1="323.20000000000005" y1="31.0" x2="323.20000000000005" y2="47.6" stroke="#777" stroke-width="0.7" stroke-dasharray="1.5,1.6"/>
<line x1="323.20000000000005" y1="105.1" x2="323.20000000000005" y2="134.2" stroke="#777" stroke-width="0.7" stroke-dasharray="1.5,1.6"/>
<line x1="320.20000000000005" y1="31.0" x2="326.20000000000005" y2="31.0" stroke="#333" stroke-width="0.7"/>
<line x1="320.20000000000005" y1="134.2" x2="326.20000000000005" y2="134.2" stroke="#333" stroke-width="0.7"/>
<rect x="317.05000000000007" y="47.6" width="12.3" height="57.49999999999999" fill="none" stroke="#8a8a8a" stroke-width="0.9"/>
<line x1="338.0" y1="20.4" x2="338.0" y2="35.4" stroke="#777" stroke-width="0.7" stroke-dasharray="1.5,1.6"/>
<line x1="338.0" y1="89.2" x2="338.0" y2="125.4" stroke="#777" stroke-width="0.7" stroke-dasharray="1.5,1.6"/>
<line x1="335.0" y1="20.4" x2="341.0" y2="20.4" stroke="#333" stroke-width="0.7"/>
<line x1="335.0" y1="125.4" x2="341.0" y2="125.4" stroke="#333" stroke-width="0.7"/>
<rect x="331.85" y="35.4" width="12.3" height="53.800000000000004" fill="none" stroke="#8a8a8a" stroke-width="0.9"/>
<line x1="352.8" y1="19.5" x2="352.8" y2="34.4" stroke="#777" stroke-width="0.7" stroke-dasharray="1.5,1.6"/>
<line x1="352.8" y1="61.1" x2="352.8" y2="98.0" stroke="#777" stroke-width="0.7" stroke-dasharray="1.5,1.6"/>
<line x1="349.8" y1="19.5" x2="355.8" y2="19.5" stroke="#333" stroke-width="0.7"/>
<line x1="349.8" y1="98.0" x2="355.8" y2="98.0" stroke="#333" stroke-width="0.7"/>
<rect x="346.65000000000003" y="34.4" width="12.3" height="26.700000000000003" fill="none" stroke="#8a8a8a" stroke-width="0.9"/>
<line x1="367.6" y1="28.0" x2="367.6" y2="33.3" stroke="#777" stroke-width="0.7" stroke-dasharray="1.5,1.6"/>
<line x1="367.6" y1="81.4" x2="367.6" y2="141.2" stroke="#777" stroke-width="0.7" stroke-dasharray="1.5,1.6"/>
<line x1="364.6" y1="28.0" x2="370.6" y2="28.0" stroke="#333" stroke-width="0.7"/>
<line x1="364.6" y1="141.2" x2="370.6" y2="141.2" stroke="#333" stroke-width="0.7"/>
<rect x="361.45000000000005" y="33.3" width="12.3" height="48.10000000000001" fill="none" stroke="#8a8a8a" stroke-width="0.9"/>
<line x1="382.40000000000003" y1="20.8" x2="382.40000000000003" y2="44.2" stroke="#777" stroke-width="0.7" stroke-dasharray="1.5,1.6"/>
<line x1="382.40000000000003" y1="77.0" x2="382.40000000000003" y2="111.9" stroke="#777" stroke-width="0.7" stroke-dasharray="1.5,1.6"/>
<line x1="379.40000000000003" y1="20.8" x2="385.40000000000003" y2="20.8" stroke="#333" stroke-width="0.7"/>
<line x1="379.40000000000003" y1="111.9" x2="385.40000000000003" y2="111.9" stroke="#333" stroke-width="0.7"/>
<rect x="376.25000000000006" y="44.2" width="12.3" height="32.8" fill="none" stroke="#8a8a8a" stroke-width="0.9"/>
<line x1="397.20000000000005" y1="17.5" x2="397.20000000000005" y2="28.3" stroke="#777" stroke-width="0.7" stroke-dasharray="1.5,1.6"/>
<line x1="397.20000000000005" y1="79.3" x2="397.20000000000005" y2="114.2" stroke="#777" stroke-width="0.7" stroke-dasharray="1.5,1.6"/>
<line x1="394.20000000000005" y1="17.5" x2="400.20000000000005" y2="17.5" stroke="#333" stroke-width="0.7"/>
<line x1="394.20000000000005" y1="114.2" x2="400.20000000000005" y2="114.2" stroke="#333" stroke-width="0.7"/>
<rect x="391.05000000000007" y="28.3" width="12.3" height="51.0" fill="none" stroke="#8a8a8a" stroke-width="0.9"/>
<line x1="412.0" y1="14.8" x2="412.0" y2="27.3" stroke="#777" stroke-width="0.7" stroke-dasharray="1.5,1.6"/>
<line x1="412.0" y1="54.2" x2="412.0" y2="76.4" stroke="#777" stroke-width="0.7" stroke-dasharray="1.5,1.6"/>
<line x1="409.0" y1="14.8" x2="415.0" y2="14.8" stroke="#333" stroke-width="0.7"/>
<line x1="409.0" y1="76.4" x2="415.0" y2="76.4" stroke="#333" stroke-width="0.7"/>
<rect x="405.85" y="27.3" width="12.3" height="26.900000000000002" fill="none" stroke="#8a8a8a" stroke-width="0.9"/>
<line x1="426.80000000000007" y1="16.4" x2="426.80000000000007" y2="24.0" stroke="#777" stroke-width="0.7" stroke-dasharray="1.5,1.6"/>
<line x1="426.80000000000007" y1="45.2" x2="426.80000000000007" y2="69.2" stroke="#777" stroke-width="0.7" stroke-dasharray="1.5,1.6"/>
<line x1="423.80000000000007" y1="16.4" x2="429.80000000000007" y2="16.4" stroke="#333" stroke-width="0.7"/>
<line x1="423.80000000000007" y1="69.2" x2="429.80000000000007" y2="69.2" stroke="#333" stroke-width="0.7"/>
<rect x="420.6500000000001" y="24.0" width="12.3" height="21.200000000000003" fill="none" stroke="#8a8a8a" stroke-width="0.9"/>
<line x1="441.6" y1="16.4" x2="441.6" y2="23.3" stroke="#777" stroke-width="0.7" stroke-dasharray="1.5,1.6"/>
<line x1="441.6" y1="84.5" x2="441.6" y2="125.4" stroke="#777" stroke-width="0.7" stroke-dasharray="1.5,1.6"/>
<line x1="438.6" y1="16.4" x2="444.6" y2="16.4" stroke="#333" stroke-width="0.7"/>
<line x1="438.6" y1="125.4" x2="444.6" y2="125.4" stroke="#333" stroke-width="0.7"/>
<rect x="435.45000000000005" y="23.3" width="12.3" height="61.2" fill="none" stroke="#8a8a8a" stroke-width="0.9"/>
<circle cx="293.39" cy="35.70" r="1.6" fill="#ffff00" stroke="#1a1a00" stroke-width="0.6"/>
<circle cx="293.86" cy="37.50" r="1.6" fill="#ffff00" stroke="#1a1a00" stroke-width="0.6"/>
<circle cx="295.47" cy="39.40" r="1.6" fill="#ffff00" stroke="#1a1a00" stroke-width="0.6"/>
<circle cx="293.45" cy="40.40" r="1.6" fill="#ffff00" stroke="#1a1a00" stroke-width="0.6"/>
<circle cx="293.63" cy="42.50" r="1.6" fill="#ffff00" stroke="#1a1a00" stroke-width="0.6"/>
<circle cx="293.98" cy="44.50" r="1.6" fill="#ffff00" stroke="#1a1a00" stroke-width="0.6"/>
<circle cx="292.21" cy="46.00" r="1.6" fill="#ffff00" stroke="#1a1a00" stroke-width="0.6"/>
<circle cx="293.65" cy="47.90" r="1.6" fill="#ffff00" stroke="#1a1a00" stroke-width="0.6"/>
<circle cx="294.17" cy="49.50" r="1.6" fill="#ffff00" stroke="#1a1a00" stroke-width="0.6"/>
<circle cx="294.89" cy="51.20" r="1.6" fill="#ffff00" stroke="#1a1a00" stroke-width="0.6"/>
<circle cx="291.81" cy="53.30" r="1.6" fill="#ffff00" stroke="#1a1a00" stroke-width="0.6"/>
<circle cx="292.73" cy="55.00" r="1.6" fill="#ffff00" stroke="#1a1a00" stroke-width="0.6"/>
<circle cx="291.80" cy="56.50" r="1.6" fill="#ffff00" stroke="#1a1a00" stroke-width="0.6"/>
<circle cx="294.96" cy="58.00" r="1.6" fill="#ffff00" stroke="#1a1a00" stroke-width="0.6"/>
<circle cx="294.45" cy="59.50" r="1.6" fill="#ffff00" stroke="#1a1a00" stroke-width="0.6"/>
<circle cx="291.58" cy="61.00" r="1.6" fill="#ffff00" stroke="#1a1a00" stroke-width="0.6"/>
<circle cx="295.72" cy="62.50" r="1.6" fill="#ffff00" stroke="#1a1a00" stroke-width="0.6"/>
<circle cx="295.64" cy="64.00" r="1.6" fill="#ffff00" stroke="#1a1a00" stroke-width="0.6"/>
<circle cx="294.28" cy="65.50" r="1.6" fill="#ffff00" stroke="#1a1a00" stroke-width="0.6"/>
<circle cx="294.11" cy="67.00" r="1.6" fill="#ffff00" stroke="#1a1a00" stroke-width="0.6"/>
<circle cx="292.09" cy="68.50" r="1.6" fill="#ffff00" stroke="#1a1a00" stroke-width="0.6"/>
<circle cx="291.47" cy="70.00" r="1.6" fill="#ffff00" stroke="#1a1a00" stroke-width="0.6"/>
<circle cx="293.72" cy="71.50" r="1.6" fill="#ffff00" stroke="#1a1a00" stroke-width="0.6"/>
<circle cx="291.66" cy="73.00" r="1.6" fill="#ffff00" stroke="#1a1a00" stroke-width="0.6"/>
<circle cx="292.24" cy="74.50" r="1.6" fill="#ffff00" stroke="#1a1a00" stroke-width="0.6"/>
<circle cx="292.46" cy="76.00" r="1.6" fill="#ffff00" stroke="#1a1a00" stroke-width="0.6"/>
<circle cx="291.53" cy="77.50" r="1.6" fill="#ffff00" stroke="#1a1a00" stroke-width="0.6"/>
<circle cx="293.44" cy="79.00" r="1.6" fill="#ffff00" stroke="#1a1a00" stroke-width="0.6"/>
<circle cx="293.34" cy="80.50" r="1.6" fill="#ffff00" stroke="#1a1a00" stroke-width="0.6"/>
<circle cx="295.11" cy="82.00" r="1.6" fill="#ffff00" stroke="#1a1a00" stroke-width="0.6"/>
<circle cx="293.68" cy="84.50" r="1.6" fill="#ffff00" stroke="#1a1a00" stroke-width="0.6"/>
<circle cx="294.22" cy="86.00" r="1.6" fill="#ffff00" stroke="#1a1a00" stroke-width="0.6"/>
<circle cx="293.60" cy="88.00" r="1.6" fill="#ffff00" stroke="#1a1a00" stroke-width="0.6"/>
<circle cx="294.31" cy="90.00" r="1.6" fill="#ffff00" stroke="#1a1a00" stroke-width="0.6"/>
<circle cx="293.41" cy="91.50" r="1.6" fill="#ffff00" stroke="#1a1a00" stroke-width="0.6"/>
<circle cx="292.62" cy="93.00" r="1.6" fill="#ffff00" stroke="#1a1a00" stroke-width="0.6"/>
<circle cx="295.79" cy="95.00" r="1.6" fill="#ffff00" stroke="#1a1a00" stroke-width="0.6"/>
<circle cx="295.78" cy="97.70" r="1.6" fill="#ffff00" stroke="#1a1a00" stroke-width="0.6"/>
<circle cx="295.10" cy="99.30" r="1.6" fill="#ffff00" stroke="#1a1a00" stroke-width="0.6"/>
<circle cx="294.51" cy="101.10" r="1.6" fill="#ffff00" stroke="#1a1a00" stroke-width="0.6"/>
<circle cx="292.79" cy="103.80" r="1.6" fill="#ffff00" stroke="#1a1a00" stroke-width="0.6"/>
<circle cx="292.41" cy="106.50" r="1.6" fill="#ffff00" stroke="#1a1a00" stroke-width="0.6"/>
<circle cx="292.67" cy="108.50" r="1.6" fill="#ffff00" stroke="#1a1a00" stroke-width="0.6"/>
<circle cx="291.71" cy="111.20" r="1.6" fill="#ffff00" stroke="#1a1a00" stroke-width="0.6"/>
<circle cx="294.77" cy="116.00" r="1.6" fill="#ffff00" stroke="#1a1a00" stroke-width="0.6"/>
<circle cx="293.16" cy="119.70" r="1.6" fill="#ffff00" stroke="#1a1a00" stroke-width="0.6"/>
<circle cx="295.12" cy="122.70" r="1.6" fill="#ffff00" stroke="#1a1a00" stroke-width="0.6"/>
<circle cx="293.10" cy="130.40" r="1.6" fill="#ffff00" stroke="#1a1a00" stroke-width="0.6"/>
<circle cx="295.62" cy="57.00" r="1.6" fill="#ffff00" stroke="#1a1a00" stroke-width="0.6"/>
<circle cx="295.13" cy="60.00" r="1.6" fill="#ffff00" stroke="#1a1a00" stroke-width="0.6"/>
<circle cx="291.40" cy="63.00" r="1.6" fill="#ffff00" stroke="#1a1a00" stroke-width="0.6"/>
<circle cx="292.32" cy="66.00" r="1.6" fill="#ffff00" stroke="#1a1a00" stroke-width="0.6"/>
<circle cx="295.41" cy="69.00" r="1.6" fill="#ffff00" stroke="#1a1a00" stroke-width="0.6"/>
<circle cx="293.47" cy="72.00" r="1.6" fill="#ffff00" stroke="#1a1a00" stroke-width="0.6"/>
<circle cx="295.71" cy="75.00" r="1.6" fill="#ffff00" stroke="#1a1a00" stroke-width="0.6"/>
<circle cx="293.15" cy="78.00" r="1.6" fill="#ffff00" stroke="#1a1a00" stroke-width="0.6"/>
<circle cx="291.72" cy="81.00" r="1.6" fill="#ffff00" stroke="#1a1a00" stroke-width="0.6"/>
<circle cx="294.17" cy="85.00" r="1.6" fill="#ffff00" stroke="#1a1a00" stroke-width="0.6"/>
<circle cx="294.83" cy="89.00" r="1.6" fill="#ffff00" stroke="#1a1a00" stroke-width="0.6"/>
<circle cx="292.59" cy="92.00" r="1.6" fill="#ffff00" stroke="#1a1a00" stroke-width="0.6"/>
<circle cx="306.58" cy="34.40" r="1.6" fill="#ffff00" stroke="#1a1a00" stroke-width="0.6"/>
<circle cx="307.66" cy="37.70" r="1.6" fill="#ffff00" stroke="#1a1a00" stroke-width="0.6"/>
<circle cx="310.44" cy="41.10" r="1.6" fill="#ffff00" stroke="#1a1a00" stroke-width="0.6"/>
<circle cx="309.54" cy="48.30" r="1.6" fill="#ffff00" stroke="#1a1a00" stroke-width="0.6"/>
<circle cx="306.72" cy="51.90" r="1.6" fill="#ffff00" stroke="#1a1a00" stroke-width="0.6"/>
<circle cx="307.28" cy="54.60" r="1.6" fill="#ffff00" stroke="#1a1a00" stroke-width="0.6"/>
<circle cx="306.64" cy="57.00" r="1.6" fill="#ffff00" stroke="#1a1a00" stroke-width="0.6"/>
<circle cx="306.46" cy="59.00" r="1.6" fill="#ffff00" stroke="#1a1a00" stroke-width="0.6"/>
<circle cx="309.71" cy="61.00" r="1.6" fill="#ffff00" stroke="#1a1a00" stroke-width="0.6"/>
<circle cx="306.98" cy="63.00" r="1.6" fill="#ffff00" stroke="#1a1a00" stroke-width="0.6"/>
<circle cx="308.66" cy="65.50" r="1.6" fill="#ffff00" stroke="#1a1a00" stroke-width="0.6"/>
<circle cx="308.17" cy="68.00" r="1.6" fill="#ffff00" stroke="#1a1a00" stroke-width="0.6"/>
<circle cx="307.04" cy="70.50" r="1.6" fill="#ffff00" stroke="#1a1a00" stroke-width="0.6"/>
<circle cx="309.42" cy="72.00" r="1.6" fill="#ffff00" stroke="#1a1a00" stroke-width="0.6"/>
<circle cx="306.78" cy="74.00" r="1.6" fill="#ffff00" stroke="#1a1a00" stroke-width="0.6"/>
<circle cx="309.03" cy="76.00" r="1.6" fill="#ffff00" stroke="#1a1a00" stroke-width="0.6"/>
<circle cx="306.71" cy="78.00" r="1.6" fill="#ffff00" stroke="#1a1a00" stroke-width="0.6"/>
<circle cx="308.05" cy="80.00" r="1.6" fill="#ffff00" stroke="#1a1a00" stroke-width="0.6"/>
<circle cx="307.14" cy="82.00" r="1.6" fill="#ffff00" stroke="#1a1a00" stroke-width="0.6"/>
<circle cx="307.39" cy="84.00" r="1.6" fill="#ffff00" stroke="#1a1a00" stroke-width="0.6"/>
<circle cx="310.47" cy="86.00" r="1.6" fill="#ffff00" stroke="#1a1a00" stroke-width="0.6"/>
<circle cx="309.74" cy="88.00" r="1.6" fill="#ffff00" stroke="#1a1a00" stroke-width="0.6"/>
<circle cx="307.54" cy="97.70" r="1.6" fill="#ffff00" stroke="#1a1a00" stroke-width="0.6"/>
<circle cx="310.09" cy="109.90" r="1.6" fill="#ffff00" stroke="#1a1a00" stroke-width="0.6"/>
<circle cx="307.13" cy="115.00" r="1.6" fill="#ffff00" stroke="#1a1a00" stroke-width="0.6"/>
<circle cx="307.93" cy="118.00" r="1.6" fill="#ffff00" stroke="#1a1a00" stroke-width="0.6"/>
<circle cx="309.96" cy="118.50" r="1.6" fill="#ffff00" stroke="#1a1a00" stroke-width="0.6"/>
<circle cx="309.02" cy="137.60" r="1.6" fill="#ffff00" stroke="#1a1a00" stroke-width="0.6"/>
<circle cx="306.64" cy="64.00" r="1.6" fill="#ffff00" stroke="#1a1a00" stroke-width="0.6"/>
<circle cx="310.55" cy="66.50" r="1.6" fill="#ffff00" stroke="#1a1a00" stroke-width="0.6"/>
<circle cx="321.94" cy="31.00" r="1.6" fill="#ffff00" stroke="#1a1a00" stroke-width="0.6"/>
<circle cx="322.14" cy="34.40" r="1.6" fill="#ffff00" stroke="#1a1a00" stroke-width="0.6"/>
<circle cx="324.40" cy="39.80" r="1.6" fill="#ffff00" stroke="#1a1a00" stroke-width="0.6"/>
<circle cx="322.45" cy="41.80" r="1.6" fill="#ffff00" stroke="#1a1a00" stroke-width="0.6"/>
<circle cx="322.30" cy="47.20" r="1.6" fill="#ffff00" stroke="#1a1a00" stroke-width="0.6"/>
<circle cx="321.32" cy="49.20" r="1.6" fill="#ffff00" stroke="#1a1a00" stroke-width="0.6"/>
<circle cx="321.40" cy="57.50" r="1.6" fill="#ffff00" stroke="#1a1a00" stroke-width="0.6"/>
<circle cx="323.56" cy="60.00" r="1.6" fill="#ffff00" stroke="#1a1a00" stroke-width="0.6"/>
<circle cx="322.07" cy="62.50" r="1.6" fill="#ffff00" stroke="#1a1a00" stroke-width="0.6"/>
<circle cx="323.65" cy="65.00" r="1.6" fill="#ffff00" stroke="#1a1a00" stroke-width="0.6"/>
<circle cx="322.64" cy="77.00" r="1.6" fill="#ffff00" stroke="#1a1a00" stroke-width="0.6"/>
<circle cx="322.99" cy="85.00" r="1.6" fill="#ffff00" stroke="#1a1a00" stroke-width="0.6"/>
<circle cx="325.22" cy="93.00" r="1.6" fill="#ffff00" stroke="#1a1a00" stroke-width="0.6"/>
<circle cx="323.13" cy="99.70" r="1.6" fill="#ffff00" stroke="#1a1a00" stroke-width="0.6"/>
<circle cx="323.53" cy="101.80" r="1.6" fill="#ffff00" stroke="#1a1a00" stroke-width="0.6"/>
<circle cx="324.81" cy="104.20" r="1.6" fill="#ffff00" stroke="#1a1a00" stroke-width="0.6"/>
<circle cx="321.80" cy="107.80" r="1.6" fill="#ffff00" stroke="#1a1a00" stroke-width="0.6"/>
<circle cx="321.68" cy="113.90" r="1.6" fill="#ffff00" stroke="#1a1a00" stroke-width="0.6"/>
<circle cx="325.00" cy="123.10" r="1.6" fill="#ffff00" stroke="#1a1a00" stroke-width="0.6"/>
<circle cx="324.60" cy="131.50" r="1.6" fill="#ffff00" stroke="#1a1a00" stroke-width="0.6"/>
<circle cx="322.10" cy="134.20" r="1.6" fill="#ffff00" stroke="#1a1a00" stroke-width="0.6"/>
<circle cx="336.64" cy="20.40" r="1.6" fill="#ffff00" stroke="#1a1a00" stroke-width="0.6"/>
<circle cx="339.05" cy="24.90" r="1.6" fill="#ffff00" stroke="#1a1a00" stroke-width="0.6"/>
<circle cx="339.94" cy="26.90" r="1.6" fill="#ffff00" stroke="#1a1a00" stroke-width="0.6"/>
<circle cx="336.66" cy="29.60" r="1.6" fill="#ffff00" stroke="#1a1a00" stroke-width="0.6"/>
<circle cx="339.98" cy="31.50" r="1.6" fill="#ffff00" stroke="#1a1a00" stroke-width="0.6"/>
<circle cx="339.68" cy="33.70" r="1.6" fill="#ffff00" stroke="#1a1a00" stroke-width="0.6"/>
<circle cx="338.46" cy="36.00" r="1.6" fill="#ffff00" stroke="#1a1a00" stroke-width="0.6"/>
<circle cx="337.65" cy="41.80" r="1.6" fill="#ffff00" stroke="#1a1a00" stroke-width="0.6"/>
<circle cx="336.26" cy="44.50" r="1.6" fill="#ffff00" stroke="#1a1a00" stroke-width="0.6"/>
<circle cx="335.97" cy="47.20" r="1.6" fill="#ffff00" stroke="#1a1a00" stroke-width="0.6"/>
<circle cx="340.04" cy="51.90" r="1.6" fill="#ffff00" stroke="#1a1a00" stroke-width="0.6"/>
<circle cx="336.85" cy="55.30" r="1.6" fill="#ffff00" stroke="#1a1a00" stroke-width="0.6"/>
<circle cx="338.90" cy="60.00" r="1.6" fill="#ffff00" stroke="#1a1a00" stroke-width="0.6"/>
<circle cx="336.93" cy="65.00" r="1.6" fill="#ffff00" stroke="#1a1a00" stroke-width="0.6"/>
<circle cx="339.42" cy="74.00" r="1.6" fill="#ffff00" stroke="#1a1a00" stroke-width="0.6"/>
<circle cx="338.42" cy="77.00" r="1.6" fill="#ffff00" stroke="#1a1a00" stroke-width="0.6"/>
<circle cx="337.09" cy="80.00" r="1.6" fill="#ffff00" stroke="#1a1a00" stroke-width="0.6"/>
<circle cx="336.57" cy="85.00" r="1.6" fill="#ffff00" stroke="#1a1a00" stroke-width="0.6"/>
<circle cx="338.97" cy="88.00" r="1.6" fill="#ffff00" stroke="#1a1a00" stroke-width="0.6"/>
<circle cx="336.10" cy="90.50" r="1.6" fill="#ffff00" stroke="#1a1a00" stroke-width="0.6"/>
<circle cx="336.80" cy="98.40" r="1.6" fill="#ffff00" stroke="#1a1a00" stroke-width="0.6"/>
<circle cx="338.26" cy="107.40" r="1.6" fill="#ffff00" stroke="#1a1a00" stroke-width="0.6"/>
<circle cx="339.55" cy="115.30" r="1.6" fill="#ffff00" stroke="#1a1a00" stroke-width="0.6"/>
<circle cx="338.50" cy="118.00" r="1.6" fill="#ffff00" stroke="#1a1a00" stroke-width="0.6"/>
<circle cx="337.03" cy="124.00" r="1.6" fill="#ffff00" stroke="#1a1a00" stroke-width="0.6"/>
<circle cx="339.84" cy="125.40" r="1.6" fill="#ffff00" stroke="#1a1a00" stroke-width="0.6"/>
<circle cx="351.50" cy="19.50" r="1.6" fill="#ffff00" stroke="#1a1a00" stroke-width="0.6"/>
<circle cx="350.67" cy="21.00" r="1.6" fill="#ffff00" stroke="#1a1a00" stroke-width="0.6"/>
<circle cx="351.78" cy="22.50" r="1.6" fill="#ffff00" stroke="#1a1a00" stroke-width="0.6"/>
<circle cx="352.56" cy="24.00" r="1.6" fill="#ffff00" stroke="#1a1a00" stroke-width="0.6"/>
<circle cx="350.87" cy="25.50" r="1.6" fill="#ffff00" stroke="#1a1a00" stroke-width="0.6"/>
<circle cx="351.38" cy="27.00" r="1.6" fill="#ffff00" stroke="#1a1a00" stroke-width="0.6"/>
<circle cx="352.22" cy="28.50" r="1.6" fill="#ffff00" stroke="#1a1a00" stroke-width="0.6"/>
<circle cx="353.12" cy="30.00" r="1.6" fill="#ffff00" stroke="#1a1a00" stroke-width="0.6"/>
<circle cx="351.18" cy="31.50" r="1.6" fill="#ffff00" stroke="#1a1a00" stroke-width="0.6"/>
<circle cx="352.19" cy="33.00" r="1.6" fill="#ffff00" stroke="#1a1a00" stroke-width="0.6"/>
<circle cx="354.52" cy="35.00" r="1.6" fill="#ffff00" stroke="#1a1a00" stroke-width="0.6"/>
<circle cx="354.91" cy="36.50" r="1.6" fill="#ffff00" stroke="#1a1a00" stroke-width="0.6"/>
<circle cx="353.49" cy="38.00" r="1.6" fill="#ffff00" stroke="#1a1a00" stroke-width="0.6"/>
<circle cx="353.64" cy="40.00" r="1.6" fill="#ffff00" stroke="#1a1a00" stroke-width="0.6"/>
<circle cx="353.17" cy="42.00" r="1.6" fill="#ffff00" stroke="#1a1a00" stroke-width="0.6"/>
<circle cx="351.22" cy="44.00" r="1.6" fill="#ffff00" stroke="#1a1a00" stroke-width="0.6"/>
<circle cx="350.75" cy="46.00" r="1.6" fill="#ffff00" stroke="#1a1a00" stroke-width="0.6"/>
<circle cx="350.68" cy="48.00" r="1.6" fill="#ffff00" stroke="#1a1a00" stroke-width="0.6"/>
<circle cx="354.60" cy="50.00" r="1.6" fill="#ffff00" stroke="#1a1a00" stroke-width="0.6"/>
<circle cx="353.68" cy="53.00" r="1.6" fill="#ffff00" stroke="#1a1a00" stroke-width="0.6"/>
<circle cx="354.84" cy="56.00" r="1.6" fill="#ffff00" stroke="#1a1a00" stroke-width="0.6"/>
<circle cx="350.69" cy="59.00" r="1.6" fill="#ffff00" stroke="#1a1a00" stroke-width="0.6"/>
<circle cx="353.40" cy="63.10" r="1.6" fill="#ffff00" stroke="#1a1a00" stroke-width="0.6"/>
<circle cx="352.72" cy="67.20" r="1.6" fill="#ffff00" stroke="#1a1a00" stroke-width="0.6"/>
<circle cx="353.81" cy="85.80" r="1.6" fill="#ffff00" stroke="#1a1a00" stroke-width="0.6"/>
<circle cx="352.00" cy="98.00" r="1.6" fill="#ffff00" stroke="#1a1a00" stroke-width="0.6"/>
<circle cx="355.00" cy="113.80" r="1.6" fill="#ffff00" stroke="#1a1a00" stroke-width="0.6"/>
<circle cx="350.93" cy="152.30" r="1.6" fill="#ffff00" stroke="#1a1a00" stroke-width="0.6"/>
<circle cx="367.80" cy="28.00" r="1.6" fill="#ffff00" stroke="#1a1a00" stroke-width="0.6"/>
<circle cx="368.64" cy="29.50" r="1.6" fill="#ffff00" stroke="#1a1a00" stroke-width="0.6"/>
<circle cx="369.36" cy="31.50" r="1.6" fill="#ffff00" stroke="#1a1a00" stroke-width="0.6"/>
<circle cx="368.64" cy="34.00" r="1.6" fill="#ffff00" stroke="#1a1a00" stroke-width="0.6"/>
<circle cx="368.50" cy="36.00" r="1.6" fill="#ffff00" stroke="#1a1a00" stroke-width="0.6"/>
<circle cx="368.89" cy="38.00" r="1.6" fill="#ffff00" stroke="#1a1a00" stroke-width="0.6"/>
<circle cx="369.43" cy="39.80" r="1.6" fill="#ffff00" stroke="#1a1a00" stroke-width="0.6"/>
<circle cx="366.95" cy="44.00" r="1.6" fill="#ffff00" stroke="#1a1a00" stroke-width="0.6"/>
<circle cx="368.41" cy="50.00" r="1.6" fill="#ffff00" stroke="#1a1a00" stroke-width="0.6"/>
<circle cx="369.36" cy="57.00" r="1.6" fill="#ffff00" stroke="#1a1a00" stroke-width="0.6"/>
<circle cx="369.23" cy="59.00" r="1.6" fill="#ffff00" stroke="#1a1a00" stroke-width="0.6"/>
<circle cx="367.24" cy="66.50" r="1.6" fill="#ffff00" stroke="#1a1a00" stroke-width="0.6"/>
<circle cx="368.88" cy="68.50" r="1.6" fill="#ffff00" stroke="#1a1a00" stroke-width="0.6"/>
<circle cx="369.20" cy="81.40" r="1.6" fill="#ffff00" stroke="#1a1a00" stroke-width="0.6"/>
<circle cx="367.92" cy="94.20" r="1.6" fill="#ffff00" stroke="#1a1a00" stroke-width="0.6"/>
<circle cx="368.15" cy="95.50" r="1.6" fill="#ffff00" stroke="#1a1a00" stroke-width="0.6"/>
<circle cx="367.08" cy="128.00" r="1.6" fill="#ffff00" stroke="#1a1a00" stroke-width="0.6"/>
<circle cx="367.96" cy="141.20" r="1.6" fill="#ffff00" stroke="#1a1a00" stroke-width="0.6"/>
<circle cx="382.88" cy="20.80" r="1.6" fill="#ffff00" stroke="#1a1a00" stroke-width="0.6"/>
<circle cx="380.55" cy="32.00" r="1.6" fill="#ffff00" stroke="#1a1a00" stroke-width="0.6"/>
<circle cx="383.01" cy="37.50" r="1.6" fill="#ffff00" stroke="#1a1a00" stroke-width="0.6"/>
<circle cx="384.57" cy="40.50" r="1.6" fill="#ffff00" stroke="#1a1a00" stroke-width="0.6"/>
<circle cx="384.07" cy="43.00" r="1.6" fill="#ffff00" stroke="#1a1a00" stroke-width="0.6"/>
<circle cx="383.40" cy="46.00" r="1.6" fill="#ffff00" stroke="#1a1a00" stroke-width="0.6"/>
<circle cx="381.91" cy="49.00" r="1.6" fill="#ffff00" stroke="#1a1a00" stroke-width="0.6"/>
<circle cx="383.43" cy="52.00" r="1.6" fill="#ffff00" stroke="#1a1a00" stroke-width="0.6"/>
<circle cx="382.76" cy="55.00" r="1.6" fill="#ffff00" stroke="#1a1a00" stroke-width="0.6"/>
<circle cx="382.14" cy="58.00" r="1.6" fill="#ffff00" stroke="#1a1a00" stroke-width="0.6"/>
<circle cx="383.89" cy="60.40" r="1.6" fill="#ffff00" stroke="#1a1a00" stroke-width="0.6"/>
<circle cx="380.57" cy="65.10" r="1.6" fill="#ffff00" stroke="#1a1a00" stroke-width="0.6"/>
<circle cx="383.50" cy="69.90" r="1.6" fill="#ffff00" stroke="#1a1a00" stroke-width="0.6"/>
<circle cx="380.33" cy="72.30" r="1.6" fill="#ffff00" stroke="#1a1a00" stroke-width="0.6"/>
<circle cx="382.85" cy="73.50" r="1.6" fill="#ffff00" stroke="#1a1a00" stroke-width="0.6"/>
<circle cx="382.32" cy="76.60" r="1.6" fill="#ffff00" stroke="#1a1a00" stroke-width="0.6"/>
<circle cx="381.21" cy="78.00" r="1.6" fill="#ffff00" stroke="#1a1a00" stroke-width="0.6"/>
<circle cx="383.27" cy="80.00" r="1.6" fill="#ffff00" stroke="#1a1a00" stroke-width="0.6"/>
<circle cx="382.39" cy="86.40" r="1.6" fill="#ffff00" stroke="#1a1a00" stroke-width="0.6"/>
<circle cx="382.90" cy="88.50" r="1.6" fill="#ffff00" stroke="#1a1a00" stroke-width="0.6"/>
<circle cx="384.25" cy="111.90" r="1.6" fill="#ffff00" stroke="#1a1a00" stroke-width="0.6"/>
<circle cx="381.33" cy="136.80" r="1.6" fill="#ffff00" stroke="#1a1a00" stroke-width="0.6"/>
<circle cx="395.05" cy="17.50" r="1.6" fill="#ffff00" stroke="#1a1a00" stroke-width="0.6"/>
<circle cx="396.32" cy="26.20" r="1.6" fill="#ffff00" stroke="#1a1a00" stroke-width="0.6"/>
<circle cx="397.98" cy="28.00" r="1.6" fill="#ffff00" stroke="#1a1a00" stroke-width="0.6"/>
<circle cx="395.89" cy="32.30" r="1.6" fill="#ffff00" stroke="#1a1a00" stroke-width="0.6"/>
<circle cx="395.75" cy="37.10" r="1.6" fill="#ffff00" stroke="#1a1a00" stroke-width="0.6"/>
<circle cx="398.99" cy="40.00" r="1.6" fill="#ffff00" stroke="#1a1a00" stroke-width="0.6"/>
<circle cx="397.90" cy="46.00" r="1.6" fill="#ffff00" stroke="#1a1a00" stroke-width="0.6"/>
<circle cx="396.94" cy="56.60" r="1.6" fill="#ffff00" stroke="#1a1a00" stroke-width="0.6"/>
<circle cx="398.92" cy="61.10" r="1.6" fill="#ffff00" stroke="#1a1a00" stroke-width="0.6"/>
<circle cx="396.44" cy="73.60" r="1.6" fill="#ffff00" stroke="#1a1a00" stroke-width="0.6"/>
<circle cx="397.93" cy="84.70" r="1.6" fill="#ffff00" stroke="#1a1a00" stroke-width="0.6"/>
<circle cx="395.87" cy="89.90" r="1.6" fill="#ffff00" stroke="#1a1a00" stroke-width="0.6"/>
<circle cx="396.90" cy="93.10" r="1.6" fill="#ffff00" stroke="#1a1a00" stroke-width="0.6"/>
<circle cx="398.55" cy="114.20" r="1.6" fill="#ffff00" stroke="#1a1a00" stroke-width="0.6"/>
<circle cx="413.82" cy="14.80" r="1.6" fill="#ffff00" stroke="#1a1a00" stroke-width="0.6"/>
<circle cx="413.67" cy="25.60" r="1.6" fill="#ffff00" stroke="#1a1a00" stroke-width="0.6"/>
<circle cx="411.49" cy="29.60" r="1.6" fill="#ffff00" stroke="#1a1a00" stroke-width="0.6"/>
<circle cx="412.37" cy="33.00" r="1.6" fill="#ffff00" stroke="#1a1a00" stroke-width="0.6"/>
<circle cx="411.19" cy="38.00" r="1.6" fill="#ffff00" stroke="#1a1a00" stroke-width="0.6"/>
<circle cx="410.40" cy="50.60" r="1.6" fill="#ffff00" stroke="#1a1a00" stroke-width="0.6"/>
<circle cx="411.98" cy="54.60" r="1.6" fill="#ffff00" stroke="#1a1a00" stroke-width="0.6"/>
<circle cx="413.48" cy="66.10" r="1.6" fill="#ffff00" stroke="#1a1a00" stroke-width="0.6"/>
<circle cx="413.53" cy="66.50" r="1.6" fill="#ffff00" stroke="#1a1a00" stroke-width="0.6"/>
<circle cx="412.93" cy="76.40" r="1.6" fill="#ffff00" stroke="#1a1a00" stroke-width="0.6"/>
<circle cx="428.78" cy="16.40" r="1.6" fill="#ffff00" stroke="#1a1a00" stroke-width="0.6"/>
<circle cx="425.82" cy="20.80" r="1.6" fill="#ffff00" stroke="#1a1a00" stroke-width="0.6"/>
<circle cx="425.34" cy="24.00" r="1.6" fill="#ffff00" stroke="#1a1a00" stroke-width="0.6"/>
<circle cx="426.58" cy="28.00" r="1.6" fill="#ffff00" stroke="#1a1a00" stroke-width="0.6"/>
<circle cx="425.81" cy="36.00" r="1.6" fill="#ffff00" stroke="#1a1a00" stroke-width="0.6"/>
<circle cx="425.54" cy="45.20" r="1.6" fill="#ffff00" stroke="#1a1a00" stroke-width="0.6"/>
<circle cx="426.42" cy="69.20" r="1.6" fill="#ffff00" stroke="#1a1a00" stroke-width="0.6"/>
<circle cx="427.35" cy="96.20" r="1.6" fill="#ffff00" stroke="#1a1a00" stroke-width="0.6"/>
<circle cx="441.57" cy="16.40" r="1.6" fill="#ffff00" stroke="#1a1a00" stroke-width="0.6"/>
<circle cx="440.79" cy="23.10" r="1.6" fill="#ffff00" stroke="#1a1a00" stroke-width="0.6"/>
<circle cx="443.09" cy="32.10" r="1.6" fill="#ffff00" stroke="#1a1a00" stroke-width="0.6"/>
<circle cx="443.72" cy="45.80" r="1.6" fill="#ffff00" stroke="#1a1a00" stroke-width="0.6"/>
<circle cx="441.39" cy="84.70" r="1.6" fill="#ffff00" stroke="#1a1a00" stroke-width="0.6"/>
<circle cx="439.73" cy="125.40" r="1.6" fill="#ffff00" stroke="#1a1a00" stroke-width="0.6"/>
<line x1="287.45000000000005" y1="74.6" x2="299.75" y2="74.6" stroke="#111" stroke-width="1.6"/>
<line x1="302.25000000000006" y1="70.2" x2="314.55" y2="70.2" stroke="#111" stroke-width="1.6"/>
<line x1="317.05000000000007" y1="72.6" x2="329.35" y2="72.6" stroke="#111" stroke-width="1.6"/>
<line x1="331.85" y1="51.2" x2="344.15" y2="51.2" stroke="#111" stroke-width="1.6"/>
<line x1="346.65000000000003" y1="42.9" x2="358.95" y2="42.9" stroke="#111" stroke-width="1.6"/>
<line x1="361.45000000000005" y1="46.2" x2="373.75" y2="46.2" stroke="#111" stroke-width="1.6"/>
<line x1="376.25000000000006" y1="61.1" x2="388.55" y2="61.1" stroke="#111" stroke-width="1.6"/>
<line x1="391.05000000000007" y1="56.6" x2="403.35" y2="56.6" stroke="#111" stroke-width="1.6"/>
<line x1="405.85" y1="36.1" x2="418.15" y2="36.1" stroke="#111" stroke-width="1.6"/>
<line x1="420.6500000000001" y1="36.0" x2="432.95000000000005" y2="36.0" stroke="#111" stroke-width="1.6"/>
<line x1="435.45000000000005" y1="38.8" x2="447.75" y2="38.8" stroke="#111" stroke-width="1.6"/>
<rect x="279.6" y="9.5" width="175.7" height="147.7" fill="none" stroke="#9a9a9a" stroke-width="1"/>
<line x1="276.6" y1="146.89999999999998" x2="279.6" y2="146.89999999999998" stroke="#777" stroke-width="0.8"/>
<text x="272.8" y="149.84999999999997" text-anchor="end" font-size="8.75" fill="#000">30</text>
<line x1="276.6" y1="119.76" x2="279.6" y2="119.76" stroke="#777" stroke-width="0.8"/>
<text x="272.8" y="122.71000000000001" text-anchor="end" font-size="8.75" fill="#000">40</text>
<line x1="276.6" y1="92.62" x2="279.6" y2="92.62" stroke="#777" stroke-width="0.8"/>
<text x="272.8" y="95.57000000000001" text-anchor="end" font-size="8.75" fill="#000">50</text>
<line x1="276.6" y1="65.48" x2="279.6" y2="65.48" stroke="#777" stroke-width="0.8"/>
<text x="272.8" y="68.43" text-anchor="end" font-size="8.75" fill="#000">60</text>
<line x1="276.6" y1="38.34" x2="279.6" y2="38.34" stroke="#777" stroke-width="0.8"/>
<text x="272.8" y="41.290000000000006" text-anchor="end" font-size="8.75" fill="#000">70</text>
<line x1="276.6" y1="11.2" x2="279.6" y2="11.2" stroke="#777" stroke-width="0.8"/>
<text x="272.8" y="14.149999999999999" text-anchor="end" font-size="8.75" fill="#000">80</text>
<line x1="293.6" y1="157.2" x2="293.6" y2="160.39999999999998" stroke="#777" stroke-width="0.8"/>
<text x="293.6" y="171.2" text-anchor="middle" font-size="8.75" fill="#000">0</text>
<line x1="308.40000000000003" y1="157.2" x2="308.40000000000003" y2="160.39999999999998" stroke="#777" stroke-width="0.8"/>
<text x="308.40000000000003" y="171.2" text-anchor="middle" font-size="8.75" fill="#000">1</text>
<line x1="323.20000000000005" y1="157.2" x2="323.20000000000005" y2="160.39999999999998" stroke="#777" stroke-width="0.8"/>
<text x="323.20000000000005" y="171.2" text-anchor="middle" font-size="8.75" fill="#000">2</text>
<line x1="338.0" y1="157.2" x2="338.0" y2="160.39999999999998" stroke="#777" stroke-width="0.8"/>
<text x="338.0" y="171.2" text-anchor="middle" font-size="8.75" fill="#000">3</text>
<line x1="352.8" y1="157.2" x2="352.8" y2="160.39999999999998" stroke="#777" stroke-width="0.8"/>
<text x="352.8" y="171.2" text-anchor="middle" font-size="8.75" fill="#000">4</text>
<line x1="367.6" y1="157.2" x2="367.6" y2="160.39999999999998" stroke="#777" stroke-width="0.8"/>
<text x="367.6" y="171.2" text-anchor="middle" font-size="8.75" fill="#000">5</text>
<line x1="382.40000000000003" y1="157.2" x2="382.40000000000003" y2="160.39999999999998" stroke="#777" stroke-width="0.8"/>
<text x="382.40000000000003" y="171.2" text-anchor="middle" font-size="8.75" fill="#000">6</text>
<line x1="397.20000000000005" y1="157.2" x2="397.20000000000005" y2="160.39999999999998" stroke="#777" stroke-width="0.8"/>
<text x="397.20000000000005" y="171.2" text-anchor="middle" font-size="8.75" fill="#000">7</text>
<line x1="412.0" y1="157.2" x2="412.0" y2="160.39999999999998" stroke="#777" stroke-width="0.8"/>
<text x="412.0" y="171.2" text-anchor="middle" font-size="8.75" fill="#000">8</text>
<line x1="426.80000000000007" y1="157.2" x2="426.80000000000007" y2="160.39999999999998" stroke="#777" stroke-width="0.8"/>
<text x="426.80000000000007" y="171.2" text-anchor="middle" font-size="8.75" fill="#000">9</text>
<line x1="441.6" y1="157.2" x2="441.6" y2="160.39999999999998" stroke="#777" stroke-width="0.8"/>
<text x="441.6" y="171.2" text-anchor="middle" font-size="8.75" fill="#000">10</text>
<text x="367.7" y="184.3" text-anchor="middle" font-size="8.75" fill="#000">Number of diseases</text>
<text x="253.7" y="83.2" text-anchor="middle" font-size="8.75" transform="rotate(-90 253.7 83.2)" fill="#000">iAge (age-adjusted)</text>
<text x="-1.0" y="204" text-anchor="start" font-size="10" font-weight="bold" fill="#000">c</text>
<line x1="43.5" y1="213.1" x2="43.5" y2="340.4" stroke="#888" stroke-width="0.9"/>
<line x1="43.5" y1="340.4" x2="233.7" y2="340.4" stroke="#888" stroke-width="0.9"/>
<line x1="41.0" y1="339.5" x2="43.5" y2="339.5" stroke="#777" stroke-width="0.8"/>
<text x="36.6" y="342.45" text-anchor="end" font-size="8.75" fill="#000">0</text>
<line x1="41.0" y1="307.9" x2="43.5" y2="307.9" stroke="#777" stroke-width="0.8"/>
<text x="36.6" y="310.84999999999997" text-anchor="end" font-size="8.75" fill="#000">4</text>
<line x1="41.0" y1="276.3" x2="43.5" y2="276.3" stroke="#777" stroke-width="0.8"/>
<text x="36.6" y="279.25" text-anchor="end" font-size="8.75" fill="#000">8</text>
<line x1="41.0" y1="244.7" x2="43.5" y2="244.7" stroke="#777" stroke-width="0.8"/>
<text x="36.6" y="247.64999999999998" text-anchor="end" font-size="8.75" fill="#000">12</text>
<line x1="41.0" y1="213.1" x2="43.5" y2="213.1" stroke="#777" stroke-width="0.8"/>
<text x="36.6" y="216.04999999999998" text-anchor="end" font-size="8.75" fill="#000">16</text>
<line x1="89.6" y1="340.4" x2="89.6" y2="343.4" stroke="#777" stroke-width="0.8"/>
<text x="89.6" y="354.9" text-anchor="middle" font-size="8.75" fill="#000">5</text>
<line x1="135.8" y1="340.4" x2="135.8" y2="343.4" stroke="#777" stroke-width="0.8"/>
<text x="135.8" y="354.9" text-anchor="middle" font-size="8.75" fill="#000">10</text>
<line x1="182.0" y1="340.4" x2="182.0" y2="343.4" stroke="#777" stroke-width="0.8"/>
<text x="179.8" y="354.9" text-anchor="middle" font-size="8.75" fill="#000">15</text>
<line x1="228.20000000000002" y1="340.4" x2="228.20000000000002" y2="343.4" stroke="#777" stroke-width="0.8"/>
<text x="228.20000000000002" y="354.9" text-anchor="middle" font-size="8.75" fill="#000">20</text>
<text x="138.3" y="368.3" text-anchor="middle" font-size="8.75" fill="#000">Observed frailty score (year 2017)</text>
<text x="9.5" y="275.2" text-anchor="middle" font-size="8.75" transform="rotate(-90 9.5 275.2)" fill="#000">Predicted frailty score</text>
<text x="19.7" y="274.4" text-anchor="middle" font-size="8.75" transform="rotate(-90 19.7 274.4)" fill="#000">(year 2010)</text>
<circle cx="51.90" cy="328.70" r="1.8" fill="#111" stroke="none" stroke-width="0.5"/>
<circle cx="60.90" cy="287.50" r="1.8" fill="#111" stroke="none" stroke-width="0.5"/>
<circle cx="88.40" cy="284.60" r="1.8" fill="#111" stroke="none" stroke-width="0.5"/>
<circle cx="97.40" cy="289.00" r="1.8" fill="#111" stroke="none" stroke-width="0.5"/>
<circle cx="99.80" cy="293.10" r="1.8" fill="#111" stroke="none" stroke-width="0.5"/>
<circle cx="106.40" cy="292.40" r="1.8" fill="#111" stroke="none" stroke-width="0.5"/>
<circle cx="79.30" cy="308.20" r="1.8" fill="#111" stroke="none" stroke-width="0.5"/>
<circle cx="81.60" cy="308.70" r="1.8" fill="#111" stroke="none" stroke-width="0.5"/>
<circle cx="79.00" cy="310.40" r="1.8" fill="#111" stroke="none" stroke-width="0.5"/>
<circle cx="79.20" cy="306.90" r="1.8" fill="#111" stroke="none" stroke-width="0.5"/>
<circle cx="93.00" cy="334.80" r="1.8" fill="#111" stroke="none" stroke-width="0.5"/>
<circle cx="92.70" cy="241.90" r="1.8" fill="#111" stroke="none" stroke-width="0.5"/>
<circle cx="88.40" cy="254.50" r="1.8" fill="#111" stroke="none" stroke-width="0.5"/>
<circle cx="115.70" cy="254.80" r="1.8" fill="#111" stroke="none" stroke-width="0.5"/>
<circle cx="117.90" cy="248.50" r="1.8" fill="#111" stroke="none" stroke-width="0.5"/>
<circle cx="84.00" cy="277.30" r="1.8" fill="#111" stroke="none" stroke-width="0.5"/>
<circle cx="124.90" cy="244.30" r="1.8" fill="#111" stroke="none" stroke-width="0.5"/>
<circle cx="136.30" cy="232.10" r="1.8" fill="#111" stroke="none" stroke-width="0.5"/>
<circle cx="136.30" cy="259.60" r="1.8" fill="#111" stroke="none" stroke-width="0.5"/>
<circle cx="136.30" cy="272.60" r="1.8" fill="#111" stroke="none" stroke-width="0.5"/>
<circle cx="150.00" cy="270.30" r="1.8" fill="#111" stroke="none" stroke-width="0.5"/>
<circle cx="138.30" cy="281.00" r="1.8" fill="#111" stroke="none" stroke-width="0.5"/>
<circle cx="172.80" cy="242.10" r="1.8" fill="#111" stroke="none" stroke-width="0.5"/>
<circle cx="175.30" cy="231.40" r="1.8" fill="#111" stroke="none" stroke-width="0.5"/>
<circle cx="177.40" cy="221.90" r="1.8" fill="#111" stroke="none" stroke-width="0.5"/>
<circle cx="184.30" cy="219.50" r="1.8" fill="#111" stroke="none" stroke-width="0.5"/>
<circle cx="197.90" cy="223.60" r="1.8" fill="#111" stroke="none" stroke-width="0.5"/>
<circle cx="216.20" cy="219.90" r="1.8" fill="#111" stroke="none" stroke-width="0.5"/>
<circle cx="225.20" cy="216.80" r="1.8" fill="#111" stroke="none" stroke-width="0.5"/>
<circle cx="218.60" cy="227.50" r="1.8" fill="#111" stroke="none" stroke-width="0.5"/>
<text x="157.6" y="316.8" font-size="8.75" fill="#000"><tspan font-style="italic">R</tspan><tspan dy="-3" font-size="6">2</tspan><tspan dy="3"> = 0.81</tspan></text>
<text x="157.6" y="327.1" font-size="8.75" fill="#000"><tspan font-style="italic">P</tspan> &lt; 0.001</text>
<text x="254.6" y="203.9" text-anchor="start" font-size="10" font-weight="bold" fill="#000">d</text>
<text x="367.8" y="209.2" text-anchor="middle" font-size="8.75" fill="#000">Prediction of frailty index – full model</text>
<line x1="291.2" y1="225.70000000000002" x2="291.2" y2="340.4" stroke="#888" stroke-width="0.9"/>
<line x1="291.2" y1="340.4" x2="478.4" y2="340.4" stroke="#888" stroke-width="0.9"/>
<line x1="288.6" y1="340.1" x2="291.2" y2="340.1" stroke="#777" stroke-width="0.8"/>
<text x="284.2" y="343.05" text-anchor="end" font-size="8.75" fill="#000">0</text>
<line x1="288.6" y1="317.22" x2="291.2" y2="317.22" stroke="#777" stroke-width="0.8"/>
<text x="284.2" y="320.17" text-anchor="end" font-size="8.75" fill="#000">0.1</text>
<line x1="288.6" y1="294.34000000000003" x2="291.2" y2="294.34000000000003" stroke="#777" stroke-width="0.8"/>
<text x="284.2" y="297.29" text-anchor="end" font-size="8.75" fill="#000">0.2</text>
<line x1="288.6" y1="271.46000000000004" x2="291.2" y2="271.46000000000004" stroke="#777" stroke-width="0.8"/>
<text x="284.2" y="274.41" text-anchor="end" font-size="8.75" fill="#000">0.3</text>
<line x1="288.6" y1="248.58" x2="291.2" y2="248.58" stroke="#777" stroke-width="0.8"/>
<text x="284.2" y="251.53" text-anchor="end" font-size="8.75" fill="#000">0.4</text>
<line x1="288.6" y1="225.70000000000002" x2="291.2" y2="225.70000000000002" stroke="#777" stroke-width="0.8"/>
<text x="284.2" y="228.65" text-anchor="end" font-size="8.75" fill="#000">0.5</text>
<rect x="297.9" y="235.8" width="30.30000000000001" height="104.39999999999998" fill="#bdbdbd" stroke="#6e6e6e" stroke-width="0.7"/>
<text x="313.04999999999995" y="352.0" text-anchor="middle" font-size="8.75" fill="#000">Age</text>
<rect x="334.3" y="225.2" width="30.5" height="115.0" fill="#bdbdbd" stroke="#6e6e6e" stroke-width="0.7"/>
<text x="349.55" y="352.0" text-anchor="middle" font-size="8.75" fill="#000">iAge</text>
<rect x="370.6" y="300.2" width="30.19999999999999" height="40.0" fill="#bdbdbd" stroke="#6e6e6e" stroke-width="0.7"/>
<text x="385.70000000000005" y="352.0" text-anchor="middle" font-size="8.75" fill="#000">Sex</text>
<rect x="407.3" y="281.5" width="30.69999999999999" height="58.69999999999999" fill="#bdbdbd" stroke="#6e6e6e" stroke-width="0.7"/>
<text x="422.65" y="352.0" text-anchor="middle" font-size="8.75" fill="#000">CMV</text>
<rect x="443.1" y="338.0" width="30.799999999999955" height="2.1999999999999886" fill="#bdbdbd" stroke="#6e6e6e" stroke-width="0.7"/>
<text x="458.5" y="352.0" text-anchor="middle" font-size="8.75" fill="#000">BMI</text>
<text x="385.6" y="365.0" text-anchor="middle" font-size="8.75" fill="#000">(Male)</text>
<text x="384.9" y="297.0" text-anchor="middle" font-size="8.75" fill="#000">NS</text>
<text x="423.3" y="276.4" text-anchor="middle" font-size="8.75" fill="#000">NS</text>
<text x="457.8" y="332.3" text-anchor="middle" font-size="8.75" fill="#000">NS</text>
<text x="294.6" y="232.8" font-size="8.75" fill="#000"><tspan font-style="italic">P</tspan> = 0.034</text>
<text x="331.2" y="222.3" font-size="8.75" fill="#000"><tspan font-style="italic">P</tspan> = 0.027</text>
<text x="263.3" y="283.2" text-anchor="middle" font-size="8.75" transform="rotate(-90 263.3 283.2)" fill="#000">Regression coefficients</text>
<text x="474.9" y="8.0" text-anchor="start" font-size="9.3" font-weight="bold" fill="#000">e</text>
<line x1="511.2" y1="22.379999999999995" x2="511.2" y2="131.5" stroke="#888" stroke-width="0.9"/>
<line x1="508.6" y1="131.5" x2="511.2" y2="131.5" stroke="#777" stroke-width="0.8"/>
<text x="504.1" y="134.45" text-anchor="end" font-size="8.75" fill="#000">0</text>
<line x1="508.6" y1="104.22" x2="511.2" y2="104.22" stroke="#777" stroke-width="0.8"/>
<text x="504.1" y="107.17" text-anchor="end" font-size="8.75" fill="#000">0.2</text>
<line x1="508.6" y1="76.94" x2="511.2" y2="76.94" stroke="#777" stroke-width="0.8"/>
<text x="504.1" y="79.89" text-anchor="end" font-size="8.75" fill="#000">0.4</text>
<line x1="508.6" y1="49.65999999999998" x2="511.2" y2="49.65999999999998" stroke="#777" stroke-width="0.8"/>
<text x="504.1" y="52.609999999999985" text-anchor="end" font-size="8.75" fill="#000">0.6</text>
<line x1="508.6" y1="22.379999999999995" x2="511.2" y2="22.379999999999995" stroke="#777" stroke-width="0.8"/>
<text x="504.1" y="25.329999999999995" text-anchor="end" font-size="8.75" fill="#000">0.8</text>
<rect x="514.9" y="38.0" width="19.700000000000045" height="94.30000000000001" fill="#0a2cff" stroke="#2a2030" stroke-width="0.6"/>
<rect x="538.2" y="101.4" width="20.199999999999932" height="30.900000000000006" fill="#ff2a00" stroke="#2a2030" stroke-width="0.6"/>
<rect x="561.8" y="88.3" width="20.0" height="44.000000000000014" fill="#0a2cff" stroke="#2a2030" stroke-width="0.6"/>
<rect x="585.2" y="25.2" width="20.399999999999977" height="107.10000000000001" fill="#ff2a00" stroke="#2a2030" stroke-width="0.6"/>
<line x1="514" y1="135.6" x2="559.6" y2="135.6" stroke="#222" stroke-width="1"/>
<line x1="560.9" y1="135.6" x2="606.6" y2="135.6" stroke="#222" stroke-width="1"/>
<text x="536.6" y="146.9" text-anchor="middle" font-size="8.75" fill="#000">Low</text>
<text x="536.6" y="156.6" text-anchor="middle" font-size="8.75" fill="#000">iAge index</text>
<text x="584.0" y="146.9" text-anchor="middle" font-size="8.75" fill="#000">High</text>
<text x="584.0" y="156.6" text-anchor="middle" font-size="8.75" fill="#000">iAge index</text>
<rect x="612.2" y="15.4" width="6.8" height="11.0" fill="#ff1010" stroke="#553333" stroke-width="0.5"/>
<rect x="612.2" y="30.5" width="6.8" height="11.0" fill="#0a2cff" stroke="#222255" stroke-width="0.5"/>
<text x="623.0" y="24.4" text-anchor="start" font-size="8.75" fill="#000">50–79 years old</text>
<text x="623.0" y="39.1" text-anchor="start" font-size="8.75" fill="#000">Centenarians</text>
<text x="482.6" y="76.8" text-anchor="middle" font-size="8.75" transform="rotate(-90 482.6 76.8)" fill="#000">Frequency of total</text>
</svg>
</body></html>
